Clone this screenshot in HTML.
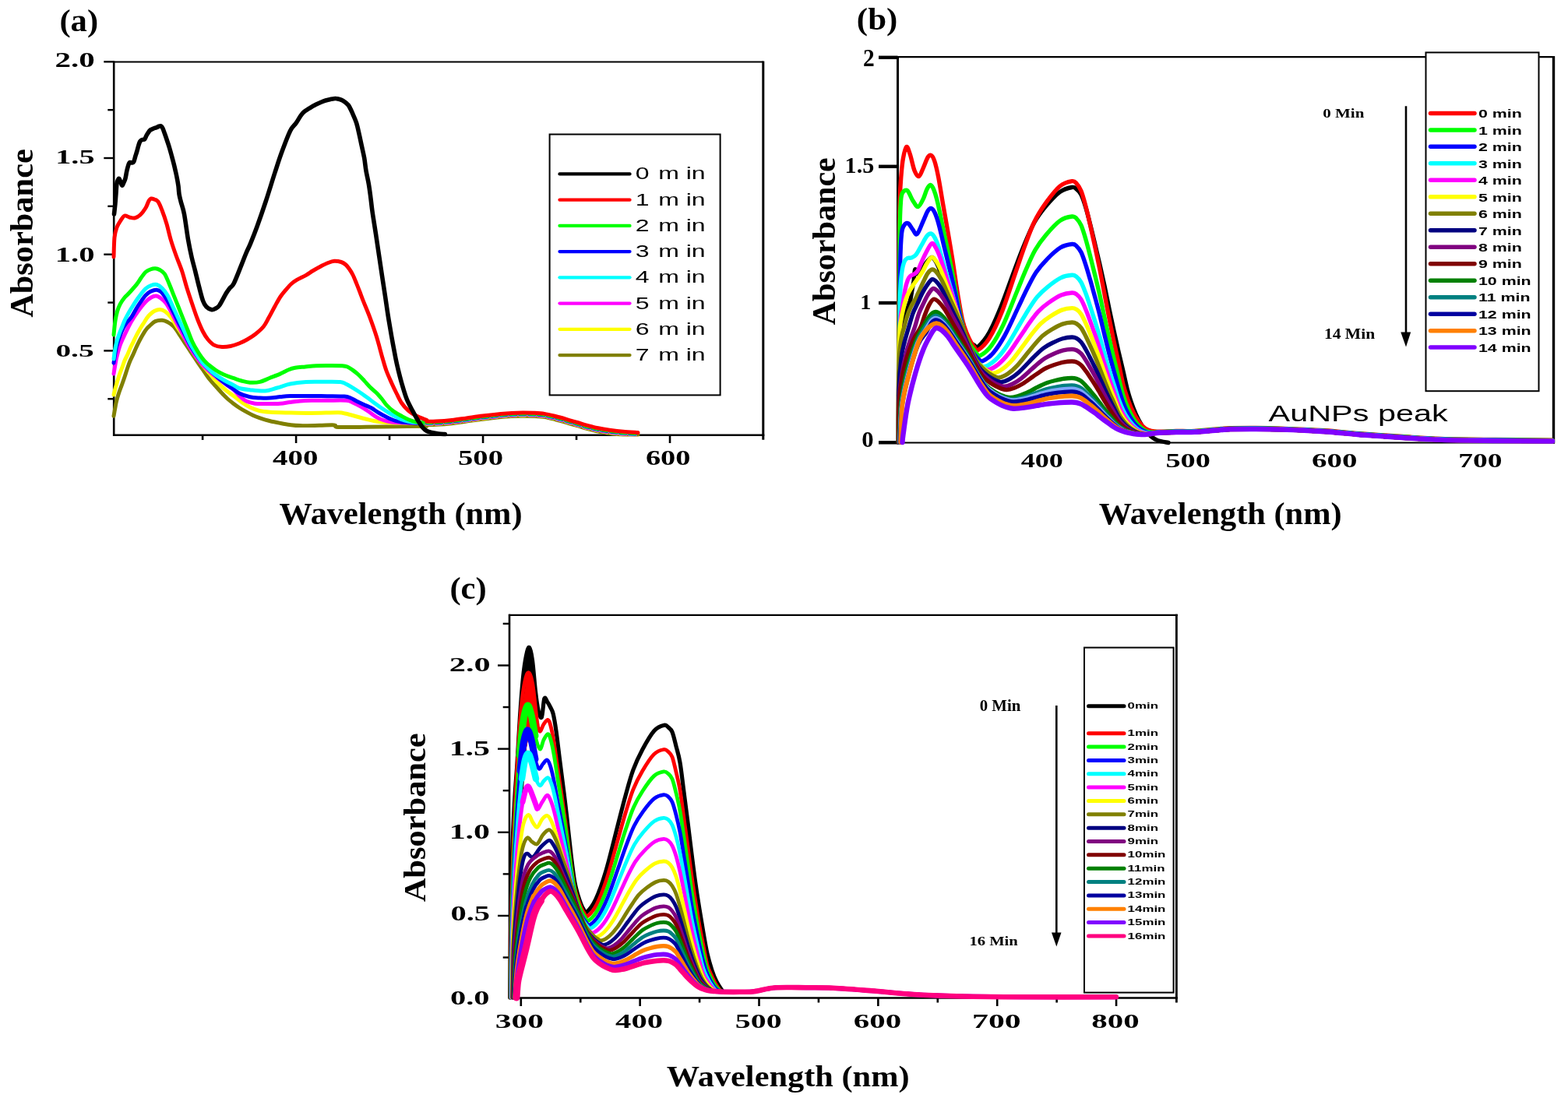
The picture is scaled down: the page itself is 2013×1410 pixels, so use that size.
<!DOCTYPE html><html><head><meta charset="utf-8"><title>UV-Vis absorbance spectra</title><style>html,body{margin:0;padding:0;background:#fff;width:2013px;height:1410px;overflow:hidden}svg{display:block}</style></head><body>
<svg width="2013" height="1410" viewBox="0 0 2013 1410">
<rect width="2013" height="1410" fill="#fff"/>
<line x1="146.2" y1="78.5" x2="146.2" y2="559.9" stroke="#000" stroke-width="2.6" stroke-linecap="butt"/>
<line x1="145.2" y1="79.5" x2="979.8" y2="79.5" stroke="#000" stroke-width="2.2" stroke-linecap="butt"/>
<line x1="979.8" y1="78.5" x2="979.8" y2="564.7" stroke="#000" stroke-width="3" stroke-linecap="butt"/>
<line x1="145.2" y1="558.7" x2="981.3" y2="558.7" stroke="#000" stroke-width="2.6" stroke-linecap="butt"/>
<line x1="133.3" y1="79.3" x2="146.2" y2="79.3" stroke="#000" stroke-width="2.4" stroke-linecap="butt"/>
<line x1="133.3" y1="203" x2="146.2" y2="203" stroke="#000" stroke-width="2.4" stroke-linecap="butt"/>
<line x1="133.3" y1="326.7" x2="146.2" y2="326.7" stroke="#000" stroke-width="2.4" stroke-linecap="butt"/>
<line x1="133.3" y1="450.4" x2="146.2" y2="450.4" stroke="#000" stroke-width="2.4" stroke-linecap="butt"/>
<line x1="138.3" y1="141.15" x2="146.2" y2="141.15" stroke="#000" stroke-width="2.4" stroke-linecap="butt"/>
<line x1="138.3" y1="264.85" x2="146.2" y2="264.85" stroke="#000" stroke-width="2.4" stroke-linecap="butt"/>
<line x1="138.3" y1="388.55" x2="146.2" y2="388.55" stroke="#000" stroke-width="2.4" stroke-linecap="butt"/>
<line x1="138.3" y1="512.25" x2="146.2" y2="512.25" stroke="#000" stroke-width="2.4" stroke-linecap="butt"/>
<line x1="380.09" y1="558.7" x2="380.09" y2="569" stroke="#000" stroke-width="2.6" stroke-linecap="butt"/>
<line x1="620.06" y1="558.7" x2="620.06" y2="569" stroke="#000" stroke-width="2.6" stroke-linecap="butt"/>
<line x1="860.03" y1="558.7" x2="860.03" y2="569" stroke="#000" stroke-width="2.6" stroke-linecap="butt"/>
<line x1="260.1" y1="558.7" x2="260.1" y2="565" stroke="#000" stroke-width="2.6" stroke-linecap="butt"/>
<line x1="500.07" y1="558.7" x2="500.07" y2="565" stroke="#000" stroke-width="2.6" stroke-linecap="butt"/>
<line x1="740.04" y1="558.7" x2="740.04" y2="565" stroke="#000" stroke-width="2.6" stroke-linecap="butt"/>
<rect x="705.6" y="172.5" width="219" height="334.9" fill="none" stroke="#000" stroke-width="2"/>
<line x1="718.5" y1="223.4" x2="808.5" y2="223.4" stroke="#000000" stroke-width="4.3" stroke-linecap="round"/>
<line x1="718.5" y1="256.64" x2="808.5" y2="256.64" stroke="#ff0000" stroke-width="4.3" stroke-linecap="round"/>
<line x1="718.5" y1="289.88" x2="808.5" y2="289.88" stroke="#00ff00" stroke-width="4.3" stroke-linecap="round"/>
<line x1="718.5" y1="323.12" x2="808.5" y2="323.12" stroke="#0000ff" stroke-width="4.3" stroke-linecap="round"/>
<line x1="718.5" y1="356.36" x2="808.5" y2="356.36" stroke="#00ffff" stroke-width="4.3" stroke-linecap="round"/>
<line x1="718.5" y1="389.6" x2="808.5" y2="389.6" stroke="#ff00ff" stroke-width="4.3" stroke-linecap="round"/>
<line x1="718.5" y1="422.84" x2="808.5" y2="422.84" stroke="#ffff00" stroke-width="4.3" stroke-linecap="round"/>
<line x1="718.5" y1="456.08" x2="808.5" y2="456.08" stroke="#808000" stroke-width="4.3" stroke-linecap="round"/>
<path d="M146 534.3C146.33 532.42 147.4 526.25 148 523C148.6 519.75 148.77 518.05 149.6 514.8C150.43 511.55 151.82 507.05 153 503.5C154.18 499.95 155.53 496.75 156.7 493.5C157.87 490.25 158.82 487.55 160 484C161.18 480.45 162.63 475.62 163.8 472.2C164.97 468.78 165.82 466.33 167 463.5C168.18 460.67 169.65 457.95 170.9 455.2C172.15 452.45 173.32 449.6 174.5 447C175.68 444.4 176.83 441.93 178 439.6C179.17 437.27 180.32 435.13 181.5 433C182.68 430.87 183.93 428.63 185.1 426.8C186.27 424.97 187.32 423.42 188.5 422C189.68 420.58 190.4 419.87 192.2 418.3C194 416.73 196.63 413.78 199.3 412.6C201.97 411.42 205.58 411.05 208.2 411.2C210.82 411.35 212.52 412.17 215 413.5C217.48 414.83 220.43 416.37 223.1 419.2C225.77 422.03 228.35 426.53 231 430.5C233.65 434.47 236.33 438.92 239 443C241.67 447.08 244.35 451.03 247 455C249.65 458.97 252.4 463.13 254.9 466.8C257.4 470.47 259.68 473.68 262 477C264.32 480.32 266.38 483.62 268.8 486.7C271.22 489.78 273.85 492.52 276.5 495.5C279.15 498.48 282.12 501.85 284.7 504.6C287.28 507.35 289.45 509.68 292 512C294.55 514.32 297.5 516.58 300 518.5C302.5 520.42 304.6 521.93 307 523.5C309.4 525.07 311.57 526.32 314.4 527.9C317.23 529.48 320.77 531.5 324 533C327.23 534.5 330.13 535.65 333.8 536.9C337.47 538.15 341.7 539.42 346 540.5C350.3 541.58 355.27 542.57 359.6 543.4C363.93 544.23 367.7 544.97 372 545.5C376.3 546.03 379.07 546.47 385.4 546.6C391.73 546.73 402.72 546.42 410 546.3C417.28 546.18 425.07 545.53 429.1 545.9C433.13 546.27 427.38 548.12 434.2 548.5C441.02 548.88 457.37 548.33 470 548.2C482.63 548.07 497.02 547.87 510 547.7C522.98 547.53 541.58 547.28 547.9 547.2" fill="none" stroke="#808000" stroke-width="5" stroke-linejoin="round" stroke-linecap="round"/>
<path d="M146 507C146.33 505.67 147.4 501.25 148 499C148.6 496.75 148.77 496.33 149.6 493.5C150.43 490.67 151.82 485.55 153 482C154.18 478.45 155.53 475.37 156.7 472.2C157.87 469.03 158.82 465.83 160 463C161.18 460.17 162.63 457.78 163.8 455.2C164.97 452.62 165.82 450.1 167 447.5C168.18 444.9 169.65 442.18 170.9 439.6C172.15 437.02 173.32 434.37 174.5 432C175.68 429.63 176.83 427.48 178 425.4C179.17 423.32 180.32 421.4 181.5 419.5C182.68 417.6 183.93 415.83 185.1 414C186.27 412.17 187.32 410.15 188.5 408.5C189.68 406.85 190.62 405.6 192.2 404.1C193.78 402.6 195.82 400.6 198 399.5C200.18 398.4 202.97 397.42 205.3 397.5C207.63 397.58 209.68 398.38 212 400C214.32 401.62 216.7 404.03 219.2 407.2C221.7 410.37 224.37 415.02 227 419C229.63 422.98 232.33 426.93 235 431.1C237.67 435.27 240.35 439.7 243 444C245.65 448.3 248.32 453.07 250.9 456.9C253.48 460.73 255.85 463.68 258.5 467C261.15 470.32 264.13 473.63 266.8 476.8C269.47 479.97 271.85 483.03 274.5 486C277.15 488.97 279.95 491.93 282.7 494.6C285.45 497.27 288.12 499.68 291 502C293.88 504.32 296.67 506 300 508.5C303.33 511 307.53 514.58 311 517C314.47 519.42 317.13 521.25 320.8 523C324.47 524.75 328.68 526.47 333 527.5C337.32 528.53 340.53 528.78 346.7 529.2C352.87 529.62 361.12 529.78 370 530C378.88 530.22 389.3 530.53 400 530.5C410.7 530.47 427.03 529.72 434.2 529.8C441.37 529.88 440.2 530.47 443 531C445.8 531.53 448.17 532.25 451 533C453.83 533.75 456.77 534.63 460 535.5C463.23 536.37 467.07 537.37 470.4 538.2C473.73 539.03 476.77 539.87 480 540.5C483.23 541.13 484.8 541.58 489.8 542C494.8 542.42 500.32 542.78 510 543C519.68 543.22 541.58 543.25 547.9 543.3" fill="none" stroke="#ffff00" stroke-width="5" stroke-linejoin="round" stroke-linecap="round"/>
<path d="M146 480C146.33 478 147.33 471.67 148 468C148.67 464.33 148.97 462.15 150 458C151.03 453.85 152.53 447.77 154.2 443.1C155.87 438.43 157.63 434.97 160 430C162.37 425.03 165.57 418.3 168.4 413.3C171.23 408.3 173.93 404.25 177 400C180.07 395.75 183.97 390.8 186.8 387.8C189.63 384.8 191.72 383.3 194 382C196.28 380.7 198.42 379.83 200.5 380C202.58 380.17 204.38 381.43 206.5 383C208.62 384.57 210.95 386.4 213.2 389.4C215.45 392.4 217.68 396.7 220 401C222.32 405.3 224.6 410.37 227.1 415.2C229.6 420.03 232.35 425.03 235 430C237.65 434.97 240.5 440.75 243 445C245.5 449.25 247.68 452.2 250 455.5C252.32 458.8 254.65 462.05 256.9 464.8C259.15 467.55 261.18 469.68 263.5 472C265.82 474.32 268.05 476.37 270.8 478.7C273.55 481.03 276.8 483.53 280 486C283.2 488.47 286.67 491.07 290 493.5C293.33 495.93 297.02 498.02 300 500.6C302.98 503.18 305.23 506.6 307.9 509C310.57 511.4 312.77 513.47 316 515C319.23 516.53 322.8 517.62 327.3 518.2C331.8 518.78 337.62 518.5 343 518.5C348.38 518.5 354.77 518.53 359.6 518.2C364.43 517.87 367.7 517.03 372 516.5C376.3 515.97 380.73 515.37 385.4 515C390.07 514.63 394.23 514.42 400 514.3C405.77 514.18 412.57 514.3 420 514.3C427.43 514.3 438.93 513.77 444.6 514.3C450.27 514.83 450.77 516.1 454 517.5C457.23 518.9 460.67 520.78 464 522.7C467.33 524.62 470.78 526.85 474 529C477.22 531.15 480.3 533.85 483.3 535.6C486.3 537.35 488.77 538.43 492 539.5C495.23 540.57 498.03 541.42 502.7 542C507.37 542.58 512.47 542.78 520 543C527.53 543.22 543.25 543.25 547.9 543.3" fill="none" stroke="#ff00ff" stroke-width="5" stroke-linejoin="round" stroke-linecap="round"/>
<path d="M146 466C146.67 462.33 148.33 450.67 150 444C151.67 437.33 154 430.83 156 426C158 421.17 159.93 418.05 162 415C164.07 411.95 165.9 411.37 168.4 407.7C170.9 404.03 173.93 397.73 177 393C180.07 388.27 183.97 382.47 186.8 379.3C189.63 376.13 191.63 375.18 194 374C196.37 372.82 198.83 372.03 201 372.2C203.17 372.37 204.83 372.95 207 375C209.17 377.05 211.67 380.75 214 384.5C216.33 388.25 218.67 392.92 221 397.5C223.33 402.08 225.5 407.08 228 412C230.5 416.92 233.42 422 236 427C238.58 432 241.17 437.75 243.5 442C245.83 446.25 247.83 449.25 250 452.5C252.17 455.75 254.33 458.75 256.5 461.5C258.67 464.25 260.75 466.58 263 469C265.25 471.42 267.17 473.33 270 476C272.83 478.67 276.67 482.17 280 485C283.33 487.83 286.67 490.5 290 493C293.33 495.5 297.17 498 300 500C302.83 502 303.53 503.37 307 505C310.47 506.63 316.3 508.8 320.8 509.8C325.3 510.8 329.68 510.78 334 511C338.32 511.22 342.37 511.35 346.7 511.1C351.03 510.85 355.7 509.93 360 509.5C364.3 509.07 365.83 508.67 372.5 508.5C379.17 508.33 392.08 508.47 400 508.5C407.92 508.53 413 508.6 420 508.7C427 508.8 437 508.72 442 509.1C447 509.48 447.42 510.03 450 511C452.58 511.97 454.67 513.48 457.5 514.9C460.33 516.32 463.77 517.98 467 519.5C470.23 521.02 473.73 522.25 476.9 524C480.07 525.75 482.78 528.07 486 530C489.22 531.93 493.03 534.02 496.2 535.6C499.37 537.18 501.77 538.43 505 539.5C508.23 540.57 511.43 541.42 515.6 542C519.77 542.58 524.62 542.78 530 543C535.38 543.22 544.92 543.25 547.9 543.3" fill="none" stroke="#0000ff" stroke-width="5" stroke-linejoin="round" stroke-linecap="round"/>
<path d="M146 461C146.25 459.17 146.9 453.57 147.5 450C148.1 446.43 148.68 443.1 149.6 439.6C150.52 436.1 151.82 432.32 153 429C154.18 425.68 155.53 422.62 156.7 419.7C157.87 416.78 158.82 414.1 160 411.5C161.18 408.9 162.4 406.63 163.8 404.1C165.2 401.57 166.2 399.82 168.4 396.3C170.6 392.78 173.93 387.25 177 383C180.07 378.75 183.97 373.55 186.8 370.8C189.63 368.05 191.58 367.38 194 366.5C196.42 365.62 198.97 364.92 201.3 365.5C203.63 366.08 205.68 367.68 208 370C210.32 372.32 212.87 375.4 215.2 379.4C217.53 383.4 219.68 389.03 222 394C224.32 398.97 226.77 404.2 229.1 409.2C231.43 414.2 233.68 419.03 236 424C238.32 428.97 240.83 434.75 243 439C245.17 443.25 247.02 446.18 249 449.5C250.98 452.82 252.98 456.07 254.9 458.9C256.82 461.73 258.52 464.18 260.5 466.5C262.48 468.82 264.8 470.88 266.8 472.8C268.8 474.72 270.52 476.35 272.5 478C274.48 479.65 275.95 480.87 278.7 482.7C281.45 484.53 285.45 487.02 289 489C292.55 490.98 297 493.02 300 494.6C303 496.18 303.53 497.48 307 498.5C310.47 499.52 315.27 500.12 320.8 500.7C326.33 501.28 334.33 502.45 340.2 502C346.07 501.55 350.62 499.5 356 498C361.38 496.5 366.35 494.27 372.5 493C378.65 491.73 385.82 490.87 392.9 490.4C399.98 489.93 407.68 490.2 415 490.2C422.32 490.2 431.97 489.93 436.8 490.4C441.63 490.87 441.63 491.93 444 493C446.37 494.07 448.33 495.22 451 496.8C453.67 498.38 456.77 500.35 460 502.5C463.23 504.65 467.07 507.28 470.4 509.7C473.73 512.12 476.77 514.62 480 517C483.23 519.38 486.47 521.75 489.8 524C493.13 526.25 496.77 528.57 500 530.5C503.23 532.43 506.2 534.1 509.2 535.6C512.2 537.1 514.78 538.43 518 539.5C521.22 540.57 523.52 541.37 528.5 542C533.48 542.63 544.67 543.08 547.9 543.3" fill="none" stroke="#00ffff" stroke-width="5" stroke-linejoin="round" stroke-linecap="round"/>
<path d="M146 430C146.33 427 147.25 417 148 412C148.75 407 149.47 403.57 150.5 400C151.53 396.43 152.62 393.6 154.2 390.6C155.78 387.6 158.12 384.35 160 382C161.88 379.65 162.92 379.32 165.5 376.5C168.08 373.68 172.92 368.35 175.5 365.1C178.08 361.85 179.12 359.6 181 357C182.88 354.4 184.8 351.33 186.8 349.5C188.8 347.67 190.92 346.8 193 346C195.08 345.2 197.3 344.62 199.3 344.7C201.3 344.78 203.02 345.35 205 346.5C206.98 347.65 209.2 348.68 211.2 351.6C213.2 354.52 215.02 359.37 217 364C218.98 368.63 221.1 374.4 223.1 379.4C225.1 384.4 227.02 389.03 229 394C230.98 398.97 233 404.2 235 409.2C237 414.2 239 419.03 241 424C243 428.97 245 434.67 247 439C249 443.33 251.02 446.68 253 450C254.98 453.32 256.98 456.32 258.9 458.9C260.82 461.48 262.52 463.52 264.5 465.5C266.48 467.48 268.8 469.22 270.8 470.8C272.8 472.38 274.52 473.68 276.5 475C278.48 476.32 280.28 477.45 282.7 478.7C285.12 479.95 288.12 481.33 291 482.5C293.88 483.67 296.83 484.62 300 485.7C303.17 486.78 306.53 488.08 310 489C313.47 489.92 316.83 490.97 320.8 491.2C324.77 491.43 329.6 491.35 333.8 490.4C338 489.45 341.7 487.22 346 485.5C350.3 483.78 355.6 481.85 359.6 480.1C363.6 478.35 366.77 476.3 370 475C373.23 473.7 375.33 472.97 379 472.3C382.67 471.63 387.53 471.43 392 471C396.47 470.57 400.8 469.95 405.8 469.7C410.8 469.45 416.4 469.5 422 469.5C427.6 469.5 435.4 469.45 439.4 469.7C443.4 469.95 443.85 470.13 446 471C448.15 471.87 449.97 473.23 452.3 474.9C454.63 476.57 457.42 478.63 460 481C462.58 483.37 465.3 486.43 467.8 489.1C470.3 491.77 472.42 494.42 475 497C477.58 499.58 480.8 502.1 483.3 504.6C485.8 507.1 487.85 509.42 490 512C492.15 514.58 493.7 517.43 496.2 520.1C498.7 522.77 501.77 525.63 505 528C508.23 530.37 512.27 532.47 515.6 534.3C518.93 536.13 521.77 537.72 525 539C528.23 540.28 531.18 541.28 535 542C538.82 542.72 545.75 543.08 547.9 543.3" fill="none" stroke="#00ff00" stroke-width="5" stroke-linejoin="round" stroke-linecap="round"/>
<path d="M146 330C146.17 325.83 146.33 311.33 147 305C147.67 298.67 148.67 295.67 150 292C151.33 288.33 153.33 285.5 155 283C156.67 280.5 158.17 277.67 160 277C161.83 276.33 163.83 278.5 166 279C168.17 279.5 170.67 280.5 173 280C175.33 279.5 177.67 278.17 180 276C182.33 273.83 185.17 270 187 267C188.83 264 189.83 260 191 258C192.17 256 192.83 255.33 194 255C195.17 254.67 196.5 255.33 198 256C199.5 256.67 201.33 256.67 203 259C204.67 261.33 206.2 265.33 208 270C209.8 274.67 211.9 280.6 213.8 287C215.7 293.4 217.37 301.57 219.4 308.4C221.43 315.23 223.63 321.4 226 328C228.37 334.6 231.27 341 233.6 348C235.93 355 237.63 362.42 240 370C242.37 377.58 245.47 386.67 247.8 393.5C250.13 400.33 251.87 405.58 254 411C256.13 416.42 258.43 421.83 260.6 426C262.77 430.17 264.63 433.15 267 436C269.37 438.85 271.8 441.52 274.8 443.1C277.8 444.68 281.47 445.27 285 445.5C288.53 445.73 292.33 445.25 296 444.5C299.67 443.75 303.45 442.42 307 441C310.55 439.58 313.8 438 317.3 436C320.8 434 324.45 431.83 328 429C331.55 426.17 335.77 422.5 338.6 419C341.43 415.5 342.63 412.25 345 408C347.37 403.75 350.3 398 352.8 393.5C355.3 389 357.63 384.55 360 381C362.37 377.45 364.67 374.95 367 372.2C369.33 369.45 371.65 366.63 374 364.5C376.35 362.37 377.95 361.27 381.1 359.4C384.25 357.53 389.42 355.28 392.9 353.3C396.38 351.32 398.77 349.43 402 347.5C405.23 345.57 409.3 343.28 412.3 341.7C415.3 340.12 417.2 339.08 420 338C422.8 336.92 426.08 335.45 429.1 335.2C432.12 334.95 435.62 335.7 438.1 336.5C440.58 337.3 442.27 338.5 444 340C445.73 341.5 447 343.33 448.5 345.5C450 347.67 451.5 349.98 453 353C454.5 356.02 456 359.93 457.5 363.6C459 367.27 460.5 371.12 462 375C463.5 378.88 464.45 381.7 466.5 386.9C468.55 392.1 471.5 398.67 474.3 406.2C477.1 413.73 480.5 423.13 483.3 432.1C486.1 441.07 488.98 452.68 491.1 460C493.22 467.32 494.07 470.72 496 476C497.93 481.28 500.53 486.87 502.7 491.7C504.87 496.53 506.85 500.7 509 505C511.15 509.3 513.1 513.83 515.6 517.5C518.1 521.17 520.77 524.2 524 527C527.23 529.8 531.02 532.22 535 534.3C538.98 536.38 545.75 538.63 547.9 539.5" fill="none" stroke="#ff0000" stroke-width="5" stroke-linejoin="round" stroke-linecap="round"/>
<path d="M547.9 545.5C549.92 545.47 554.65 545.6 560 545.3C565.35 545 573.5 544.4 580 543.7C586.5 543 592.33 542.02 599 541.1C605.67 540.18 612.67 539.12 620 538.2C627.33 537.28 636.83 536.2 643 535.6C649.17 535 652.33 534.83 657 534.6C661.67 534.37 666.33 534.22 671 534.2C675.67 534.18 680.33 534.27 685 534.5C689.67 534.73 694.33 534.9 699 535.6C703.67 536.3 708.33 537.55 713 538.7C717.67 539.85 722.33 541.17 727 542.5C731.67 543.83 736.33 545.3 741 546.7C745.67 548.1 750.5 549.68 755 550.9C759.5 552.12 763.42 553.08 768 554C772.58 554.92 777.17 555.73 782.5 556.4C787.83 557.07 793.92 557.73 800 558C806.08 558.27 815.83 558 819 558" fill="none" stroke="#808000" stroke-width="5" stroke-linejoin="round" stroke-linecap="round"/>
<path d="M547.9 544.5C549.92 544.47 554.65 544.6 560 544.3C565.35 544 573.5 543.4 580 542.7C586.5 542 592.33 541.02 599 540.1C605.67 539.18 612.67 538.12 620 537.2C627.33 536.28 636.83 535.2 643 534.6C649.17 534 652.33 533.83 657 533.6C661.67 533.37 666.33 533.22 671 533.2C675.67 533.18 680.33 533.27 685 533.5C689.67 533.73 694.33 533.9 699 534.6C703.67 535.3 708.33 536.55 713 537.7C717.67 538.85 722.33 540.17 727 541.5C731.67 542.83 736.33 544.3 741 545.7C745.67 547.1 750.5 548.68 755 549.9C759.5 551.12 763.42 552.08 768 553C772.58 553.92 777.17 554.65 782.5 555.4C787.83 556.15 793.92 557.07 800 557.5C806.08 557.93 815.83 557.92 819 558" fill="none" stroke="#ffff00" stroke-width="5" stroke-linejoin="round" stroke-linecap="round" stroke-dasharray="7 5"/>
<path d="M547.9 544.1C549.92 544.07 554.65 544.2 560 543.9C565.35 543.6 573.5 543 580 542.3C586.5 541.6 592.33 540.62 599 539.7C605.67 538.78 612.67 537.72 620 536.8C627.33 535.88 636.83 534.8 643 534.2C649.17 533.6 652.33 533.43 657 533.2C661.67 532.97 666.33 532.82 671 532.8C675.67 532.78 680.33 532.87 685 533.1C689.67 533.33 694.33 533.5 699 534.2C703.67 534.9 708.33 536.15 713 537.3C717.67 538.45 722.33 539.77 727 541.1C731.67 542.43 736.33 543.9 741 545.3C745.67 546.7 750.5 548.28 755 549.5C759.5 550.72 763.42 551.68 768 552.6C772.58 553.52 777.17 554.25 782.5 555C787.83 555.75 793.92 556.6 800 557.1C806.08 557.6 815.83 557.85 819 558" fill="none" stroke="#ff00ff" stroke-width="5" stroke-linejoin="round" stroke-linecap="round" stroke-dasharray="7 5"/>
<path d="M547.9 543.3C549.92 543.27 554.65 543.4 560 543.1C565.35 542.8 573.5 542.2 580 541.5C586.5 540.8 592.33 539.82 599 538.9C605.67 537.98 612.67 536.92 620 536C627.33 535.08 636.83 534 643 533.4C649.17 532.8 652.33 532.63 657 532.4C661.67 532.17 666.33 532.02 671 532C675.67 531.98 680.33 532.07 685 532.3C689.67 532.53 694.33 532.7 699 533.4C703.67 534.1 708.33 535.35 713 536.5C717.67 537.65 722.33 538.97 727 540.3C731.67 541.63 736.33 543.1 741 544.5C745.67 545.9 750.5 547.48 755 548.7C759.5 549.92 763.42 550.88 768 551.8C772.58 552.72 777.17 553.45 782.5 554.2C787.83 554.95 793.92 555.75 800 556.3C806.08 556.85 815.83 557.3 819 557.5" fill="none" stroke="#00ffff" stroke-width="5" stroke-linejoin="round" stroke-linecap="round" stroke-dasharray="7 5"/>
<path d="M547.9 543C549.92 542.97 554.65 543.1 560 542.8C565.35 542.5 573.5 541.9 580 541.2C586.5 540.5 592.33 539.52 599 538.6C605.67 537.68 612.67 536.62 620 535.7C627.33 534.78 636.83 533.7 643 533.1C649.17 532.5 652.33 532.33 657 532.1C661.67 531.87 666.33 531.72 671 531.7C675.67 531.68 680.33 531.77 685 532C689.67 532.23 694.33 532.4 699 533.1C703.67 533.8 708.33 535.05 713 536.2C717.67 537.35 722.33 538.67 727 540C731.67 541.33 736.33 542.8 741 544.2C745.67 545.6 750.5 547.18 755 548.4C759.5 549.62 763.42 550.58 768 551.5C772.58 552.42 777.17 553.15 782.5 553.9C787.83 554.65 793.92 555.45 800 556C806.08 556.55 815.83 557 819 557.2" fill="none" stroke="#0000ff" stroke-width="5" stroke-linejoin="round" stroke-linecap="round" stroke-dasharray="7 5"/>
<path d="M547.9 542.5C549.92 542.47 554.65 542.6 560 542.3C565.35 542 573.5 541.4 580 540.7C586.5 540 592.33 539.02 599 538.1C605.67 537.18 612.67 536.12 620 535.2C627.33 534.28 636.83 533.2 643 532.6C649.17 532 652.33 531.83 657 531.6C661.67 531.37 666.33 531.22 671 531.2C675.67 531.18 680.33 531.27 685 531.5C689.67 531.73 694.33 531.9 699 532.6C703.67 533.3 708.33 534.55 713 535.7C717.67 536.85 722.33 538.17 727 539.5C731.67 540.83 736.33 542.3 741 543.7C745.67 545.1 750.5 546.68 755 547.9C759.5 549.12 763.42 550.08 768 551C772.58 551.92 777.17 552.65 782.5 553.4C787.83 554.15 793.92 554.95 800 555.5C806.08 556.05 815.83 556.5 819 556.7" fill="none" stroke="#00ff00" stroke-width="5" stroke-linejoin="round" stroke-linecap="round" stroke-dasharray="7 5"/>
<path d="M547.9 541.3C549.92 541.27 554.65 541.4 560 541.1C565.35 540.8 573.5 540.2 580 539.5C586.5 538.8 592.33 537.82 599 536.9C605.67 535.98 612.67 534.92 620 534C627.33 533.08 636.83 532 643 531.4C649.17 530.8 652.33 530.63 657 530.4C661.67 530.17 666.33 530.02 671 530C675.67 529.98 680.33 530.07 685 530.3C689.67 530.53 694.33 530.7 699 531.4C703.67 532.1 708.33 533.35 713 534.5C717.67 535.65 722.33 536.97 727 538.3C731.67 539.63 736.33 541.1 741 542.5C745.67 543.9 750.5 545.48 755 546.7C759.5 547.92 763.42 548.88 768 549.8C772.58 550.72 777.17 551.45 782.5 552.2C787.83 552.95 793.92 553.75 800 554.3C806.08 554.85 815.83 555.3 819 555.5" fill="none" stroke="#ff0000" stroke-width="5" stroke-linejoin="round" stroke-linecap="round"/>
<path d="M146.5 275C146.73 272.83 147.5 266.3 147.9 262C148.3 257.7 148.57 253.53 148.9 249.2C149.23 244.87 149.47 239.03 149.9 236C150.33 232.97 151 232.1 151.5 231C152 229.9 152.32 228.9 152.9 229.4C153.48 229.9 154.33 232.52 155 234C155.67 235.48 156.23 238.3 156.9 238.3C157.57 238.3 158.33 235.48 159 234C159.67 232.52 160.32 231.57 160.9 229.4C161.48 227.23 162.02 223.32 162.5 221C162.98 218.68 163.3 217.33 163.8 215.5C164.3 213.67 165 211.17 165.5 210C166 208.83 166.13 208.67 166.8 208.5C167.47 208.33 168.67 209.17 169.5 209C170.33 208.83 171.05 209 171.8 207.5C172.55 206 173.35 202.15 174 200C174.65 197.85 175.07 196.77 175.7 194.6C176.33 192.43 177.13 189.15 177.8 187C178.47 184.85 178.92 182.95 179.7 181.7C180.48 180.45 181.5 180 182.5 179.5C183.5 179 184.78 179.62 185.7 178.7C186.62 177.78 187.18 175.48 188 174C188.82 172.52 189.77 170.97 190.6 169.8C191.43 168.63 192.17 167.67 193 167C193.83 166.33 194.77 166.22 195.6 165.8C196.43 165.38 197.17 164.83 198 164.5C198.83 164.17 199.68 164.13 200.6 163.8C201.52 163.47 202.52 162.83 203.5 162.5C204.48 162.17 205.58 161.38 206.5 161.8C207.42 162.22 208.17 163.33 209 165C209.83 166.67 210.58 169.22 211.5 171.8C212.42 174.38 213.5 177.52 214.5 180.5C215.5 183.48 216.5 186.37 217.5 189.7C218.5 193.03 219.52 196.87 220.5 200.5C221.48 204.13 222.57 208.17 223.4 211.5C224.23 214.83 224.83 217.52 225.5 220.5C226.17 223.48 226.82 226.32 227.4 229.4C227.98 232.48 228.57 235.7 229 239C229.43 242.3 229.47 245.87 230 249.2C230.53 252.53 231.12 254.7 232.2 259C233.28 263.3 234.97 267 236.5 275C238.03 283 239.82 297.83 241.4 307C242.98 316.17 244.47 323.17 246 330C247.53 336.83 249.02 341.67 250.6 348C252.18 354.33 253.83 361.6 255.5 368C257.17 374.4 259.02 382.07 260.6 386.4C262.18 390.73 263.12 392.12 265 394C266.88 395.88 269.9 397.37 271.9 397.7C273.9 398.03 275.35 396.95 277 396C278.65 395.05 279.57 395.25 281.8 392C284.03 388.75 288.2 380.17 290.4 376.5C292.6 372.83 293.35 372.13 295 370C296.65 367.87 297.77 368.77 300.3 363.7C302.83 358.63 307.58 346.05 310.2 339.6C312.82 333.15 314.1 329.5 316 325C317.9 320.5 319.27 318.27 321.6 312.6C323.93 306.93 326.7 300.1 330 291C333.3 281.9 337.6 269.5 341.4 258C345.2 246.5 349.48 232.25 352.8 222C356.12 211.75 358 205.5 361.3 196.5C364.6 187.5 369.48 174.38 372.6 168C375.72 161.62 377.35 161.97 380 158.2C382.65 154.43 385.43 148.72 388.5 145.4C391.57 142.08 395.48 140.2 398.4 138.3C401.32 136.4 403.15 135.42 406 134C408.85 132.58 412.83 130.8 415.5 129.8C418.17 128.8 419.55 128.55 422 128C424.45 127.45 428.03 126.62 430.2 126.5C432.37 126.38 433.3 126.83 435 127.3C436.7 127.77 438.37 128.02 440.4 129.3C442.43 130.58 445.12 132.17 447.2 135C449.28 137.83 451.18 142.52 452.9 146.3C454.62 150.08 456.17 153.53 457.5 157.7C458.83 161.87 459.77 166.38 460.9 171.3C462.03 176.22 463.17 181.9 464.3 187.2C465.43 192.5 466.77 197.8 467.7 203.1C468.63 208.4 468.97 213.52 469.9 219C470.83 224.48 472.35 230.52 473.3 236C474.25 241.48 474.85 246.23 475.6 251.9C476.35 257.57 477.13 264.98 477.8 270C478.47 275.02 478.73 276.37 479.6 282C480.47 287.63 481.8 295.9 483 303.8C484.2 311.7 485.53 320.88 486.8 329.4C488.07 337.92 489.32 346.4 490.6 354.9C491.88 363.4 493.22 371.88 494.5 380.4C495.78 388.92 496.93 397.38 498.3 406C499.67 414.62 501.1 423.1 502.7 432.1C504.3 441.1 506.52 453.02 507.9 460C509.28 466.98 509.72 468.72 511 474C512.28 479.28 513.75 485.32 515.6 491.7C517.45 498.08 519.73 506.28 522.1 512.3C524.47 518.32 527.48 523.35 529.8 527.8C532.12 532.25 533.85 535.47 536 539C538.15 542.53 540.7 546.58 542.7 549C544.7 551.42 546.05 552.42 548 553.5C549.95 554.58 551.9 554.92 554.4 555.5C556.9 556.08 560.2 556.67 563 557C565.8 557.33 569.83 557.42 571.2 557.5" fill="none" stroke="#000000" stroke-width="5.6" stroke-linejoin="round" stroke-linecap="round"/>
<line x1="1152.5" y1="72.2" x2="1152.5" y2="569.5" stroke="#000" stroke-width="3" stroke-linecap="butt"/>
<line x1="1151" y1="73.2" x2="1996" y2="73.2" stroke="#000" stroke-width="2.2" stroke-linecap="butt"/>
<line x1="1994.5" y1="72.2" x2="1994.5" y2="569.5" stroke="#000" stroke-width="3.4" stroke-linecap="butt"/>
<line x1="1151" y1="568.5" x2="1996" y2="568.5" stroke="#000" stroke-width="2.2" stroke-linecap="butt"/>
<line x1="1128" y1="73.8" x2="1152.5" y2="73.8" stroke="#000" stroke-width="4.4" stroke-linecap="butt"/>
<line x1="1128" y1="213.8" x2="1152.5" y2="213.8" stroke="#000" stroke-width="4.4" stroke-linecap="butt"/>
<line x1="1128" y1="389" x2="1152.5" y2="389" stroke="#000" stroke-width="4.4" stroke-linecap="butt"/>
<line x1="1128" y1="568.3" x2="1152.5" y2="568.3" stroke="#000" stroke-width="4.4" stroke-linecap="butt"/>
<path d="M1153.2 568C1153.33 553.33 1153.37 503 1154 480C1154.63 457 1155.67 442.5 1157 430C1158.33 417.5 1160.5 411.17 1162 405C1163.5 398.83 1164.88 396.32 1166 393C1167.12 389.68 1167.87 388.6 1168.7 385.1C1169.53 381.6 1170.28 375.97 1171 372C1171.72 368.03 1172.38 365.63 1173 361.3C1173.62 356.97 1173.87 347.55 1174.7 346C1175.53 344.45 1176.62 351.75 1178 352C1179.38 352.25 1181.17 349.92 1183 347.5C1184.83 345.08 1186.83 340.32 1189 337.5C1191.17 334.68 1194.14 331.18 1196 330.6C1197.86 330.02 1198.68 331.94 1200.17 334.04C1201.66 336.14 1203.15 339 1204.94 343.21C1206.73 347.41 1208.81 353.71 1210.9 359.25C1212.99 364.79 1215.47 371.09 1217.46 376.44C1219.44 381.79 1220.73 385.23 1222.82 391.34C1224.91 397.45 1227.79 407 1229.97 413.11C1232.16 419.22 1233.95 424.19 1235.93 428.01C1237.92 431.83 1240.1 433.93 1241.89 436.03C1243.68 438.13 1245.17 439.37 1246.66 440.62C1248.15 441.86 1249.34 442.72 1250.83 443.48C1252.32 444.25 1252.39 447.98 1255.6 445.2C1258.81 442.42 1265.05 435.65 1270.07 426.78C1275.1 417.91 1280.12 405.97 1285.75 391.98C1291.38 377.99 1298.81 356.16 1303.84 342.85C1308.87 329.54 1311.88 321.7 1315.9 312.14C1319.92 302.59 1323.54 293.38 1327.96 285.53C1332.38 277.69 1337.01 271.55 1342.43 265.06C1347.86 258.58 1354.89 250.73 1360.52 246.64C1366.15 242.55 1372.62 241.14 1376.2 240.5C1379.78 239.86 1380.03 241.2 1382 242.78C1383.97 244.37 1386 245.98 1388 249.99C1390 254.01 1392 260.27 1394 266.87C1396 273.46 1398 281.64 1400 289.57C1402 297.51 1404 306.06 1406 314.5C1408 322.94 1410 331.43 1412 340.21C1414 349 1416 357.83 1418 367.21C1420 376.59 1422 386.86 1424 396.48C1426 406.1 1428 415.75 1430 424.93C1432 434.12 1434 442.93 1436 451.58C1438 460.23 1440 468.31 1442 476.84C1444 485.36 1445.83 494.89 1448 502.75C1450.17 510.61 1452.67 517.87 1455 524C1457.33 530.14 1459.5 534.86 1462 539.55C1464.5 544.24 1467.33 548.63 1470 552.14C1472.67 555.66 1475.33 558.41 1478 560.64C1480.67 562.86 1482.33 564.16 1486 565.47C1489.67 566.78 1497.67 568 1500 568.5" fill="none" stroke="#000000" stroke-width="5.4" stroke-linejoin="round" stroke-linecap="round"/>
<path d="M1153.6 568C1153.63 543.33 1153.68 461.33 1153.8 420C1153.92 378.67 1154.05 347.5 1154.3 320C1154.55 292.5 1154.85 270.83 1155.3 255C1155.75 239.17 1156.3 233.67 1157 225C1157.7 216.33 1158.37 209.08 1159.5 203C1160.63 196.92 1162.32 189.27 1163.8 188.5C1165.28 187.73 1166.7 193.32 1168.4 198.4C1170.1 203.48 1172.12 214.32 1174 219C1175.88 223.68 1177.8 227.1 1179.7 226.5C1181.6 225.9 1183.5 219.48 1185.4 215.4C1187.3 211.32 1189.4 204.65 1191.1 202C1192.8 199.35 1194.15 198.67 1195.6 199.5C1197.05 200.33 1198.3 202.42 1199.8 207C1201.3 211.58 1202.8 217.83 1204.6 227C1206.4 236.17 1208.5 249.92 1210.6 262C1212.7 274.08 1215.2 287.83 1217.2 299.5C1219.2 311.17 1220.5 318.67 1222.6 332C1224.7 345.33 1227.6 366.17 1229.8 379.5C1232 392.83 1233.8 403.67 1235.8 412C1237.8 420.33 1240 424.92 1241.8 429.5C1243.6 434.08 1245.1 436.79 1246.6 439.5C1248.1 442.21 1249.3 444.08 1250.8 445.75C1252.3 447.42 1252.39 451.4 1255.6 449.5C1258.81 447.6 1265.05 442.27 1270.07 434.32C1275.1 426.37 1280.12 415.9 1285.75 401.8C1291.38 387.71 1298.81 364.23 1303.84 349.77C1308.87 335.32 1311.88 325.92 1315.9 315.08C1319.92 304.24 1323.54 293.77 1327.96 284.73C1332.38 275.7 1337.01 268.47 1342.43 260.88C1347.86 253.3 1354.89 243.9 1360.52 239.2C1366.15 234.51 1372.62 233.31 1376.2 232.7C1379.78 232.09 1380.03 233.49 1382 235.57C1383.97 237.64 1386 240.18 1388 245.14C1390 250.11 1392 257.75 1394 265.36C1396 272.97 1398 282 1400 290.78C1402 299.56 1404 308.75 1406 318.04C1408 327.33 1410 336.55 1412 346.53C1414 356.5 1416 367.45 1418 377.87C1420 388.28 1422 398.92 1424 409.02C1426 419.12 1428 428.98 1430 438.46C1432 447.94 1434 456.64 1436 465.91C1438 475.19 1440 486.24 1442 494.1C1444 501.96 1445.83 507.14 1448 513.08C1450.17 519.01 1452.67 525.03 1455 529.72C1457.33 534.42 1459.5 537.91 1462 541.27C1464.5 544.64 1467.33 547.89 1470 549.92C1472.67 551.96 1474.9 552.77 1478 553.5C1481.1 554.23 1483.27 554.3 1488.6 554.3C1493.93 554.3 1502.53 553.65 1510 553.5C1517.47 553.35 1523.83 553.9 1533.4 553.4C1542.97 552.9 1559.63 551.1 1567.4 550.5C1575.17 549.9 1572.9 549.97 1580 549.8C1587.1 549.63 1599.3 549.45 1610 549.5C1620.7 549.55 1629.2 549.55 1644.2 550.1C1659.2 550.65 1683.23 551.7 1700 552.8C1716.77 553.9 1728.13 555.42 1744.8 556.7C1761.47 557.98 1782.35 559.38 1800 560.5C1817.65 561.62 1830.7 562.73 1850.7 563.4C1870.7 564.07 1896.28 564.22 1920 564.5C1943.72 564.78 1980.83 565 1993 565.1" fill="none" stroke="#ff0000" stroke-width="5.4" stroke-linejoin="round" stroke-linecap="round"/>
<path d="M1154 568C1154.05 540 1154.13 444.67 1154.3 400C1154.47 355.33 1154.63 323.67 1155 300C1155.37 276.33 1155.83 266.83 1156.5 258C1157.17 249.17 1157.58 249.18 1159 247C1160.42 244.82 1162.87 243.15 1165 244.9C1167.13 246.65 1169.53 254.07 1171.8 257.5C1174.07 260.93 1176.33 265.9 1178.6 265.5C1180.87 265.1 1183.5 258.85 1185.4 255.1C1187.3 251.35 1188.48 245.93 1190 243C1191.52 240.07 1193 237.32 1194.5 237.5C1196 237.68 1197.38 240.06 1198.97 244.07C1200.57 248.09 1202.17 253.57 1204.09 261.6C1206 269.63 1208.24 281.69 1210.47 292.27C1212.71 302.86 1215.37 314.92 1217.5 325.14C1219.63 335.36 1221.02 341.94 1223.26 353.62C1225.49 365.31 1228.58 383.57 1230.92 395.25C1233.27 406.94 1235.18 416.43 1237.31 423.74C1239.44 431.04 1241.79 435.06 1243.7 439.07C1245.62 443.09 1247.22 445.46 1248.82 447.84C1250.41 450.21 1251.69 451.85 1253.29 453.31C1254.89 454.77 1255.19 458.14 1258.4 456.6C1261.61 455.06 1267.63 450.65 1272.54 444.1C1277.44 437.55 1282.35 428.92 1287.85 417.31C1293.35 405.7 1300.61 386.35 1305.52 374.44C1310.43 362.54 1313.37 354.8 1317.3 345.87C1321.23 336.94 1324.76 328.31 1329.08 320.86C1333.4 313.42 1337.92 307.47 1343.22 301.22C1348.52 294.97 1355.39 287.23 1360.89 283.36C1366.38 279.49 1372.68 278.46 1376.2 278C1379.72 277.54 1380.03 278.71 1382 280.61C1383.97 282.52 1386 284.93 1388 289.44C1390 293.95 1392 300.87 1394 307.69C1396 314.5 1398 322.51 1400 330.32C1402 338.12 1404 346.28 1406 354.51C1408 362.74 1410 370.82 1412 379.69C1414 388.56 1416 398.51 1418 407.74C1420 416.97 1422 426.31 1424 435.09C1426 443.87 1428 452.13 1430 460.42C1432 468.71 1434 476.94 1436 484.83C1438 492.71 1440 501.22 1442 507.73C1444 514.24 1445.83 518.94 1448 523.88C1450.17 528.82 1452.67 533.61 1455 537.36C1457.33 541.1 1459.5 543.78 1462 546.36C1464.5 548.93 1467.33 551.33 1470 552.79C1472.67 554.24 1474.9 554.78 1478 555.08C1481.1 555.38 1483.27 554.81 1488.6 554.6C1493.93 554.39 1502.53 553.95 1510 553.8C1517.47 553.65 1523.83 554.2 1533.4 553.7C1542.97 553.2 1559.63 551.4 1567.4 550.8C1575.17 550.2 1572.9 550.27 1580 550.1C1587.1 549.93 1599.3 549.75 1610 549.8C1620.7 549.85 1629.2 549.85 1644.2 550.4C1659.2 550.95 1683.23 552 1700 553.1C1716.77 554.2 1728.13 555.72 1744.8 557C1761.47 558.28 1782.35 559.68 1800 560.8C1817.65 561.92 1830.7 563.03 1850.7 563.7C1870.7 564.37 1896.28 564.52 1920 564.8C1943.72 565.08 1980.83 565.3 1993 565.4" fill="none" stroke="#00ff00" stroke-width="5.4" stroke-linejoin="round" stroke-linecap="round"/>
<path d="M1154.5 568C1154.55 545 1154.62 468 1154.8 430C1154.98 392 1155.15 361.67 1155.6 340C1156.05 318.33 1156.6 308.5 1157.5 300C1158.4 291.5 1159.57 291.17 1161 289C1162.43 286.83 1164.3 286.03 1166.1 287C1167.9 287.97 1169.92 292.55 1171.8 294.8C1173.68 297.05 1175.13 302.38 1177.4 300.5C1179.67 298.62 1183.13 288.42 1185.4 283.5C1187.67 278.58 1189.3 273.65 1191 271C1192.7 268.35 1194.07 267.19 1195.6 267.6C1197.13 268.01 1198.56 269.89 1200.2 273.48C1201.84 277.08 1203.48 281.98 1205.45 289.17C1207.43 296.36 1209.73 307.15 1212.02 316.62C1214.32 326.1 1217.06 336.89 1219.25 346.04C1221.44 355.19 1222.87 361.07 1225.16 371.53C1227.46 381.99 1230.64 398.33 1233.05 408.79C1235.46 419.25 1237.43 427.75 1239.62 434.28C1241.81 440.82 1244.22 444.42 1246.19 448.01C1248.16 451.61 1249.8 453.73 1251.44 455.86C1253.09 457.98 1254.4 459.45 1256.04 460.76C1257.69 462.07 1258.13 464.96 1261.3 463.7C1264.47 462.44 1270.3 458.69 1275.09 453.19C1279.88 447.68 1284.66 440.42 1290.03 430.66C1295.39 420.89 1302.47 404.62 1307.26 394.61C1312.05 384.59 1314.92 378.09 1318.75 370.58C1322.58 363.07 1326.03 355.81 1330.24 349.55C1334.45 343.29 1338.86 338.28 1344.03 333.03C1349.2 327.77 1355.9 321.26 1361.26 318.01C1366.62 314.75 1372.74 313.85 1376.2 313.5C1379.66 313.15 1380.03 314.13 1382 315.89C1383.97 317.64 1386 319.9 1388 324.01C1390 328.12 1392 334.42 1394 340.56C1396 346.7 1398 353.87 1400 360.86C1402 367.85 1404 375.12 1406 382.51C1408 389.91 1410 397.3 1412 405.25C1414 413.21 1416 422.04 1418 430.25C1420 438.46 1422 446.79 1424 454.53C1426 462.26 1428 469.31 1430 476.64C1432 483.98 1434 491.74 1436 498.52C1438 505.31 1440 511.98 1442 517.35C1444 522.72 1445.83 526.65 1448 530.73C1450.17 534.81 1452.67 538.73 1455 541.85C1457.33 544.97 1459.5 547.37 1462 549.43C1464.5 551.5 1467.33 553.13 1470 554.25C1472.67 555.37 1474.9 556.03 1478 556.13C1481.1 556.24 1483.27 555.24 1488.6 554.9C1493.93 554.56 1502.53 554.25 1510 554.1C1517.47 553.95 1523.83 554.5 1533.4 554C1542.97 553.5 1559.63 551.7 1567.4 551.1C1575.17 550.5 1572.9 550.57 1580 550.4C1587.1 550.23 1599.3 550.05 1610 550.1C1620.7 550.15 1629.2 550.15 1644.2 550.7C1659.2 551.25 1683.23 552.3 1700 553.4C1716.77 554.5 1728.13 556.02 1744.8 557.3C1761.47 558.58 1782.35 559.98 1800 561.1C1817.65 562.22 1830.7 563.33 1850.7 564C1870.7 564.67 1896.28 564.82 1920 565.1C1943.72 565.38 1980.83 565.6 1993 565.7" fill="none" stroke="#0000ff" stroke-width="5.4" stroke-linejoin="round" stroke-linecap="round"/>
<path d="M1155 568C1155.03 546.67 1155.15 469.67 1155.2 440C1155.25 410.33 1155.12 402.5 1155.3 390C1155.48 377.5 1155.85 372 1156.3 365C1156.75 358 1157.22 352.83 1158 348C1158.78 343.17 1159.83 338.75 1161 336C1162.17 333.25 1163.5 332.33 1165 331.5C1166.5 330.67 1168.17 331.75 1170 331C1171.83 330.25 1173.83 329.67 1176 327C1178.17 324.33 1180.67 319 1183 315C1185.33 311 1187.97 305.5 1190 303C1192.03 300.5 1193.53 299.65 1195.2 300C1196.87 300.35 1198.3 301.99 1200.02 305.12C1201.75 308.26 1203.47 312.53 1205.54 318.79C1207.6 325.05 1210.01 334.44 1212.42 342.7C1214.84 350.96 1217.71 360.35 1220 368.32C1222.3 376.29 1223.79 381.41 1226.2 390.52C1228.62 399.63 1231.95 413.87 1234.47 422.98C1237 432.09 1239.07 439.49 1241.36 445.18C1243.66 450.87 1246.19 454 1248.25 457.14C1250.32 460.27 1252.04 462.12 1253.76 463.97C1255.49 465.82 1256.87 467.1 1258.59 468.24C1260.31 469.38 1260.94 471.74 1264.1 470.8C1267.26 469.86 1272.88 466.88 1277.55 462.57C1282.22 458.27 1286.89 452.59 1292.12 444.95C1297.36 437.31 1304.27 424.58 1308.94 416.75C1313.61 408.92 1316.41 403.83 1320.15 397.95C1323.89 392.08 1327.25 386.4 1331.36 381.5C1335.47 376.6 1339.77 372.69 1344.81 368.58C1349.86 364.46 1356.4 359.37 1361.63 356.83C1366.86 354.28 1372.8 353.54 1376.2 353.3C1379.6 353.06 1380.03 353.85 1382 355.4C1383.97 356.95 1386 359 1388 362.61C1390 366.22 1392 371.73 1394 377.06C1396 382.39 1398 388.56 1400 394.59C1402 400.62 1404 406.83 1406 413.23C1408 419.64 1410 426.16 1412 433.01C1414 439.86 1416 447.31 1418 454.33C1420 461.35 1422 468.58 1424 475.14C1426 481.69 1428 487.43 1430 493.66C1432 499.89 1434 506.95 1436 512.53C1438 518.11 1440 522.96 1442 527.15C1444 531.34 1445.83 534.45 1448 537.64C1450.17 540.84 1452.67 543.9 1455 546.32C1457.33 548.74 1459.5 550.62 1462 552.18C1464.5 553.73 1467.33 554.95 1470 555.66C1472.67 556.37 1474.9 556.51 1478 556.43C1481.1 556.36 1483.27 555.54 1488.6 555.2C1493.93 554.86 1502.53 554.55 1510 554.4C1517.47 554.25 1523.83 554.8 1533.4 554.3C1542.97 553.8 1559.63 552 1567.4 551.4C1575.17 550.8 1572.9 550.87 1580 550.7C1587.1 550.53 1599.3 550.35 1610 550.4C1620.7 550.45 1629.2 550.45 1644.2 551C1659.2 551.55 1683.23 552.6 1700 553.7C1716.77 554.8 1728.13 556.32 1744.8 557.6C1761.47 558.88 1782.35 560.28 1800 561.4C1817.65 562.52 1830.7 563.63 1850.7 564.3C1870.7 564.97 1896.28 565.12 1920 565.4C1943.72 565.68 1980.83 565.9 1993 566" fill="none" stroke="#00ffff" stroke-width="5.4" stroke-linejoin="round" stroke-linecap="round"/>
<path d="M1155.5 568C1155.48 551.67 1155.4 493 1155.4 470C1155.4 447 1155.37 440.33 1155.5 430C1155.63 419.67 1155.7 414.07 1156.2 408C1156.7 401.93 1157.55 399.55 1158.5 393.6C1159.45 387.65 1160.77 377.97 1161.9 372.3C1163.03 366.63 1164.17 362.57 1165.3 359.6C1166.43 356.63 1167.28 355.78 1168.7 354.5C1170.12 353.22 1172.23 353.03 1173.8 351.9C1175.37 350.77 1176.68 349.97 1178.1 347.7C1179.52 345.43 1180.6 342 1182.3 338.3C1184 334.6 1186.02 329.75 1188.3 325.5C1190.58 321.25 1193.87 314.11 1196 312.8C1198.13 311.49 1199.26 314.69 1201.07 317.67C1202.88 320.64 1204.69 324.69 1206.86 330.64C1209.03 336.59 1211.57 345.51 1214.1 353.35C1216.63 361.19 1219.65 370.11 1222.06 377.68C1224.48 385.25 1226.05 390.12 1228.58 398.77C1231.11 407.42 1234.61 420.93 1237.27 429.58C1239.92 438.23 1242.09 445.26 1244.51 450.67C1246.92 456.08 1249.58 459.05 1251.75 462.02C1253.92 465 1255.73 466.75 1257.54 468.51C1259.35 470.27 1260.8 471.49 1262.61 472.57C1264.42 473.65 1265.28 475.75 1268.4 475C1271.52 474.25 1276.84 471.7 1281.34 468.07C1285.83 464.44 1290.32 459.66 1295.35 453.22C1300.38 446.79 1307.03 436.06 1311.52 429.46C1316.01 422.86 1318.71 418.57 1322.3 413.62C1325.89 408.67 1329.13 403.88 1333.08 399.76C1337.03 395.63 1341.16 392.33 1346.02 388.87C1350.87 385.41 1357.16 381.12 1362.19 378.97C1367.22 376.83 1372.9 376.17 1376.2 376C1379.5 375.83 1380.03 376.5 1382 377.92C1383.97 379.35 1386 381.26 1388 384.56C1390 387.86 1392 392.88 1394 397.73C1396 402.57 1398 408.15 1400 413.6C1402 419.06 1404 424.65 1406 430.46C1408 436.27 1410 442.25 1412 448.45C1414 454.64 1416 461.33 1418 467.63C1420 473.93 1422 480.37 1424 486.25C1426 492.12 1428 497.26 1430 502.88C1432 508.49 1434 515.05 1436 519.96C1438 524.88 1440 528.81 1442 532.37C1444 535.93 1445.83 538.61 1448 541.33C1450.17 544.06 1452.67 546.67 1455 548.73C1457.33 550.79 1459.5 552.39 1462 553.68C1464.5 554.98 1467.33 555.98 1470 556.49C1472.67 557 1474.9 556.9 1478 556.73C1481.1 556.57 1483.27 555.84 1488.6 555.5C1493.93 555.16 1502.53 554.85 1510 554.7C1517.47 554.55 1523.83 555.1 1533.4 554.6C1542.97 554.1 1559.63 552.3 1567.4 551.7C1575.17 551.1 1572.9 551.17 1580 551C1587.1 550.83 1599.3 550.65 1610 550.7C1620.7 550.75 1629.2 550.75 1644.2 551.3C1659.2 551.85 1683.23 552.9 1700 554C1716.77 555.1 1728.13 556.62 1744.8 557.9C1761.47 559.18 1782.35 560.58 1800 561.7C1817.65 562.82 1830.7 563.93 1850.7 564.6C1870.7 565.27 1896.28 565.42 1920 565.7C1943.72 565.98 1980.83 566.2 1993 566.3" fill="none" stroke="#ff00ff" stroke-width="5.4" stroke-linejoin="round" stroke-linecap="round"/>
<path d="M1153.6 568C1153.63 553.33 1153.57 503.83 1153.8 480C1154.03 456.17 1154.5 436.57 1155 425C1155.5 413.43 1156.07 415.12 1156.8 410.6C1157.53 406.08 1158.4 402.15 1159.4 397.9C1160.4 393.65 1161.53 388.93 1162.8 385.1C1164.07 381.27 1165.45 378.02 1167 374.9C1168.55 371.78 1170.25 369.23 1172.1 366.4C1173.95 363.57 1176.12 360.73 1178.1 357.9C1180.08 355.07 1182.02 352.67 1184 349.4C1185.98 346.13 1188 341.43 1190 338.3C1192 335.17 1194.07 331.14 1196 330.6C1197.93 330.06 1199.58 332.33 1201.57 335.06C1203.55 337.79 1205.54 341.5 1207.92 346.96C1210.31 352.41 1213.09 360.59 1215.88 367.78C1218.66 374.96 1221.97 383.14 1224.62 390.08C1227.27 397.02 1228.99 401.48 1231.78 409.41C1234.56 417.34 1238.4 429.73 1241.32 437.66C1244.23 445.59 1246.62 452.04 1249.27 457C1251.91 461.95 1254.83 464.68 1257.21 467.4C1259.6 470.13 1261.59 471.74 1263.58 473.35C1265.56 474.96 1267.15 476.08 1269.14 477.07C1271.13 478.06 1272.43 479.9 1275.5 479.3C1278.57 478.7 1283.39 476.51 1287.58 473.44C1291.78 470.37 1295.98 466.33 1300.67 460.89C1305.37 455.45 1311.58 446.38 1315.78 440.8C1319.98 435.22 1322.49 431.59 1325.85 427.41C1329.21 423.22 1332.23 419.18 1335.92 415.69C1339.61 412.2 1343.47 409.41 1348 406.48C1352.54 403.55 1358.41 399.92 1363.11 398.11C1367.81 396.3 1373.05 395.73 1376.2 395.6C1379.35 395.47 1380.03 396.05 1382 397.36C1383.97 398.67 1386 400.44 1388 403.46C1390 406.47 1392 411.07 1394 415.47C1396 419.87 1398 424.93 1400 429.87C1402 434.82 1404 439.87 1406 445.15C1408 450.42 1410 455.91 1412 461.52C1414 467.13 1416 473.16 1418 478.82C1420 484.48 1422 490.2 1424 495.48C1426 500.76 1428 505.43 1430 510.51C1432 515.6 1434 521.66 1436 526.01C1438 530.36 1440 533.57 1442 536.62C1444 539.68 1445.83 541.99 1448 544.34C1450.17 546.68 1452.67 548.92 1455 550.68C1457.33 552.45 1459.5 553.83 1462 554.91C1464.5 556 1467.33 556.83 1470 557.18C1472.67 557.54 1474.9 557.27 1478 557.03C1481.1 556.8 1483.27 556.14 1488.6 555.8C1493.93 555.46 1502.53 555.15 1510 555C1517.47 554.85 1523.83 555.4 1533.4 554.9C1542.97 554.4 1559.63 552.6 1567.4 552C1575.17 551.4 1572.9 551.47 1580 551.3C1587.1 551.13 1599.3 550.95 1610 551C1620.7 551.05 1629.2 551.05 1644.2 551.6C1659.2 552.15 1683.23 553.2 1700 554.3C1716.77 555.4 1728.13 556.92 1744.8 558.2C1761.47 559.48 1782.35 560.88 1800 562C1817.65 563.12 1830.7 564.23 1850.7 564.9C1870.7 565.57 1896.28 565.72 1920 566C1943.72 566.28 1980.83 566.5 1993 566.6" fill="none" stroke="#ffff00" stroke-width="5.4" stroke-linejoin="round" stroke-linecap="round"/>
<path d="M1153.4 568C1153.43 553.33 1153.25 500.5 1153.6 480C1153.95 459.5 1154.77 453.33 1155.5 445C1156.23 436.67 1157.07 434.32 1158 430C1158.93 425.68 1160.02 423.03 1161.1 419.1C1162.18 415.17 1163.08 410.65 1164.5 406.4C1165.92 402.15 1167.77 397.43 1169.6 393.6C1171.43 389.77 1173.67 386.95 1175.5 383.4C1177.33 379.85 1178.9 375.98 1180.6 372.3C1182.3 368.62 1183.98 364.83 1185.7 361.3C1187.42 357.77 1189.05 353.65 1190.9 351.1C1192.75 348.55 1194.82 346.15 1196.8 346C1198.78 345.85 1200.66 347.62 1202.81 350.17C1204.95 352.72 1207.1 356.19 1209.67 361.29C1212.24 366.39 1215.25 374.03 1218.25 380.75C1221.25 387.47 1224.83 395.11 1227.69 401.6C1230.55 408.09 1232.41 412.26 1235.41 419.67C1238.41 427.08 1242.56 438.67 1245.71 446.08C1248.85 453.49 1251.43 459.52 1254.29 464.15C1257.15 468.78 1260.29 471.33 1262.87 473.88C1265.44 476.43 1267.59 477.93 1269.73 479.44C1271.88 480.95 1273.59 481.99 1275.74 482.91C1277.88 483.84 1279.58 485.48 1282.6 485C1285.62 484.52 1289.93 482.63 1293.83 480.03C1297.73 477.43 1301.63 474 1306 469.38C1310.37 464.76 1316.14 457.07 1320.04 452.34C1323.94 447.61 1326.28 444.53 1329.4 440.98C1332.52 437.43 1335.33 434 1338.76 431.04C1342.19 428.08 1345.78 425.72 1349.99 423.23C1354.2 420.75 1359.66 417.67 1364.03 416.13C1368.4 414.59 1373.21 414.09 1376.2 414C1379.19 413.91 1380.03 414.41 1382 415.6C1383.97 416.79 1386 418.41 1388 421.14C1390 423.88 1392 428.03 1394 432C1396 435.97 1398 440.51 1400 444.95C1402 449.4 1404 453.92 1406 458.67C1408 463.42 1410 468.4 1412 473.44C1414 478.48 1416 483.87 1418 488.91C1420 493.96 1422 498.98 1424 503.7C1426 508.41 1428 512.68 1430 517.21C1432 521.75 1434 527.09 1436 530.91C1438 534.72 1440 537.48 1442 540.11C1444 542.75 1445.83 544.7 1448 546.7C1450.17 548.7 1452.67 550.61 1455 552.11C1457.33 553.61 1459.5 554.79 1462 555.69C1464.5 556.59 1467.33 557.28 1470 557.5C1472.67 557.73 1474.9 557.32 1478 557.03C1481.1 556.75 1483.27 556.14 1488.6 555.8C1493.93 555.46 1502.53 555.15 1510 555C1517.47 554.85 1523.83 555.4 1533.4 554.9C1542.97 554.4 1559.63 552.6 1567.4 552C1575.17 551.4 1572.9 551.47 1580 551.3C1587.1 551.13 1599.3 550.95 1610 551C1620.7 551.05 1629.2 551.05 1644.2 551.6C1659.2 552.15 1683.23 553.2 1700 554.3C1716.77 555.4 1728.13 556.92 1744.8 558.2C1761.47 559.48 1782.35 560.88 1800 562C1817.65 563.12 1830.7 564.23 1850.7 564.9C1870.7 565.57 1896.28 565.72 1920 566C1943.72 566.28 1980.83 566.5 1993 566.6" fill="none" stroke="#808000" stroke-width="5.4" stroke-linejoin="round" stroke-linecap="round"/>
<path d="M1153.5 568C1153.58 556.67 1153.42 518 1154 500C1154.58 482 1155.83 470 1157 460C1158.17 450 1159.33 446.82 1161 440C1162.67 433.18 1165.15 425.42 1167 419.1C1168.85 412.78 1170.25 407.05 1172.1 402.1C1173.95 397.15 1176.12 393.65 1178.1 389.4C1180.08 385.15 1182.02 380.43 1184 376.6C1185.98 372.77 1187.87 369.38 1190 366.4C1192.13 363.42 1194.63 359.32 1196.8 358.7C1198.97 358.08 1200.79 360.24 1203 362.66C1205.22 365.08 1207.43 368.37 1210.09 373.21C1212.75 378.05 1215.85 385.3 1218.95 391.68C1222.05 398.05 1225.74 405.3 1228.7 411.46C1231.65 417.62 1233.57 421.57 1236.67 428.61C1239.77 435.64 1244.05 446.63 1247.3 453.67C1250.55 460.7 1253.21 466.42 1256.16 470.81C1259.12 475.21 1262.36 477.63 1265.02 480.05C1267.68 482.47 1269.9 483.9 1272.11 485.32C1274.33 486.75 1276.1 487.74 1278.31 488.62C1280.53 489.5 1282.4 490.94 1285.4 490.6C1288.4 490.26 1292.51 488.68 1296.3 486.57C1300.08 484.46 1303.86 481.67 1308.1 477.93C1312.34 474.18 1317.94 467.94 1321.72 464.1C1325.5 460.26 1327.77 457.77 1330.8 454.89C1333.83 452.01 1336.55 449.22 1339.88 446.82C1343.21 444.42 1346.69 442.5 1350.78 440.49C1354.86 438.47 1360.16 435.98 1364.4 434.73C1368.63 433.48 1373.27 433.05 1376.2 433C1379.13 432.95 1380.03 433.36 1382 434.42C1383.97 435.48 1386 436.93 1388 439.36C1390 441.78 1392 445.47 1394 448.97C1396 452.47 1398 456.46 1400 460.38C1402 464.29 1404 468.26 1406 472.44C1408 476.63 1410 481.06 1412 485.5C1414 489.93 1416 494.65 1418 499.05C1420 503.45 1422 507.77 1424 511.89C1426 516.02 1428 519.89 1430 523.8C1432 527.71 1434 532.12 1436 535.36C1438 538.6 1440 540.98 1442 543.24C1444 545.5 1445.83 547.24 1448 548.93C1450.17 550.63 1452.67 552.21 1455 553.43C1457.33 554.66 1459.5 555.57 1462 556.29C1464.5 557.02 1467.33 557.65 1470 557.78C1472.67 557.9 1474.9 557.36 1478 557.03C1481.1 556.71 1483.27 556.14 1488.6 555.8C1493.93 555.46 1502.53 555.15 1510 555C1517.47 554.85 1523.83 555.4 1533.4 554.9C1542.97 554.4 1559.63 552.6 1567.4 552C1575.17 551.4 1572.9 551.47 1580 551.3C1587.1 551.13 1599.3 550.95 1610 551C1620.7 551.05 1629.2 551.05 1644.2 551.6C1659.2 552.15 1683.23 553.2 1700 554.3C1716.77 555.4 1728.13 556.92 1744.8 558.2C1761.47 559.48 1782.35 560.88 1800 562C1817.65 563.12 1830.7 564.23 1850.7 564.9C1870.7 565.57 1896.28 565.72 1920 566C1943.72 566.28 1980.83 566.5 1993 566.6" fill="none" stroke="#000080" stroke-width="5.4" stroke-linejoin="round" stroke-linecap="round"/>
<path d="M1153.6 568C1153.75 558.33 1153.77 524.67 1154.5 510C1155.23 495.33 1156.58 489.17 1158 480C1159.42 470.83 1161.17 462.5 1163 455C1164.83 447.5 1167.05 440.98 1169 435C1170.95 429.02 1172.9 424.58 1174.7 419.1C1176.5 413.62 1177.97 407.05 1179.8 402.1C1181.63 397.15 1183.85 393.23 1185.7 389.4C1187.55 385.57 1188.9 382.23 1190.9 379.1C1192.9 375.97 1195.49 371.39 1197.7 370.6C1199.91 369.81 1201.84 372.07 1204.13 374.37C1206.43 376.68 1208.73 379.82 1211.49 384.43C1214.24 389.04 1217.46 395.95 1220.67 402.03C1223.89 408.1 1227.72 415.01 1230.78 420.88C1233.85 426.75 1235.84 430.52 1239.06 437.22C1242.27 443.93 1246.71 454.4 1250.08 461.1C1253.45 467.81 1256.21 473.25 1259.27 477.44C1262.34 481.63 1265.71 483.94 1268.46 486.24C1271.22 488.55 1273.52 489.91 1275.81 491.27C1278.11 492.63 1279.95 493.58 1282.25 494.41C1284.55 495.25 1286.64 496.54 1289.6 496.3C1292.56 496.06 1296.38 494.71 1299.99 492.95C1303.6 491.2 1307.21 488.89 1311.25 485.78C1315.29 482.68 1320.63 477.5 1324.24 474.31C1327.85 471.13 1330.01 469.05 1332.9 466.66C1335.79 464.27 1338.38 461.96 1341.56 459.97C1344.74 457.98 1348.06 456.39 1351.95 454.71C1355.85 453.04 1360.9 450.97 1364.94 449.93C1368.98 448.9 1373.36 448.53 1376.2 448.5C1379.04 448.47 1380.03 448.82 1382 449.76C1383.97 450.71 1386 452.02 1388 454.19C1390 456.35 1392 459.63 1394 462.74C1396 465.85 1398 469.38 1400 472.85C1402 476.31 1404 479.82 1406 483.53C1408 487.25 1410 491.21 1412 495.14C1414 499.06 1416 503.23 1418 507.1C1420 510.97 1422 514.72 1424 518.36C1426 521.99 1428 525.5 1430 528.91C1432 532.31 1434 536.02 1436 538.79C1438 541.57 1440 543.61 1442 545.55C1444 547.49 1445.83 548.98 1448 550.44C1450.17 551.89 1452.67 553.24 1455 554.28C1457.33 555.32 1459.5 556.04 1462 556.65C1464.5 557.26 1467.33 557.89 1470 557.95C1472.67 558.02 1474.9 557.39 1478 557.03C1481.1 556.68 1483.27 556.14 1488.6 555.8C1493.93 555.46 1502.53 555.15 1510 555C1517.47 554.85 1523.83 555.4 1533.4 554.9C1542.97 554.4 1559.63 552.6 1567.4 552C1575.17 551.4 1572.9 551.47 1580 551.3C1587.1 551.13 1599.3 550.95 1610 551C1620.7 551.05 1629.2 551.05 1644.2 551.6C1659.2 552.15 1683.23 553.2 1700 554.3C1716.77 555.4 1728.13 556.92 1744.8 558.2C1761.47 559.48 1782.35 560.88 1800 562C1817.65 563.12 1830.7 564.23 1850.7 564.9C1870.7 565.57 1896.28 565.72 1920 566C1943.72 566.28 1980.83 566.5 1993 566.6" fill="none" stroke="#800080" stroke-width="5.4" stroke-linejoin="round" stroke-linecap="round"/>
<path d="M1153.8 568C1153.83 560 1153.3 533.83 1154 520C1154.7 506.17 1156.33 495 1158 485C1159.67 475 1161.83 467.5 1164 460C1166.17 452.5 1169 445 1171 440C1173 435 1174.12 433.48 1176 430C1177.88 426.52 1180.53 423.03 1182.3 419.1C1184.07 415.17 1184.88 410.93 1186.6 406.4C1188.32 401.87 1190.62 395.58 1192.6 391.9C1194.58 388.22 1196.42 384.99 1198.5 384.3C1200.58 383.61 1202.73 385.66 1205.08 387.79C1207.43 389.92 1209.78 392.83 1212.6 397.09C1215.42 401.36 1218.71 407.75 1222 413.38C1225.29 419 1229.21 425.39 1232.34 430.82C1235.47 436.25 1237.51 439.74 1240.8 445.94C1244.09 452.14 1248.63 461.83 1252.08 468.04C1255.53 474.24 1258.35 479.28 1261.48 483.16C1264.61 487.03 1268.06 489.16 1270.88 491.3C1273.7 493.43 1276.05 494.69 1278.4 495.95C1280.75 497.21 1282.63 498.08 1284.98 498.86C1287.33 499.63 1289.57 500.74 1292.5 500.6C1295.43 500.46 1299.06 499.38 1302.54 498.04C1306.03 496.7 1309.52 494.93 1313.42 492.55C1317.33 490.17 1322.49 486.2 1325.98 483.76C1329.47 481.32 1331.56 479.74 1334.35 477.91C1337.14 476.08 1339.65 474.31 1342.72 472.78C1345.79 471.26 1349 470.04 1352.76 468.76C1356.53 467.48 1361.41 465.89 1365.32 465.1C1369.22 464.31 1373.42 464 1376.2 464C1378.98 464 1380.03 464.27 1382 465.1C1383.97 465.93 1386 467.09 1388 468.98C1390 470.87 1392 473.73 1394 476.44C1396 479.14 1398 482.21 1400 485.22C1402 488.22 1404 491.26 1406 494.49C1408 497.72 1410 501.18 1412 504.59C1414 508 1416 511.6 1418 514.93C1420 518.27 1422 521.47 1424 524.61C1426 527.75 1428 530.87 1430 533.78C1432 536.68 1434 539.73 1436 542.05C1438 544.38 1440 546.1 1442 547.73C1444 549.35 1445.83 550.58 1448 551.8C1450.17 553.02 1452.67 554.16 1455 555.02C1457.33 555.88 1459.5 556.49 1462 556.98C1464.5 557.47 1467.33 557.96 1470 557.97C1472.67 557.98 1474.9 557.4 1478 557.03C1481.1 556.67 1483.27 556.14 1488.6 555.8C1493.93 555.46 1502.53 555.15 1510 555C1517.47 554.85 1523.83 555.4 1533.4 554.9C1542.97 554.4 1559.63 552.6 1567.4 552C1575.17 551.4 1572.9 551.47 1580 551.3C1587.1 551.13 1599.3 550.95 1610 551C1620.7 551.05 1629.2 551.05 1644.2 551.6C1659.2 552.15 1683.23 553.2 1700 554.3C1716.77 555.4 1728.13 556.92 1744.8 558.2C1761.47 559.48 1782.35 560.88 1800 562C1817.65 563.12 1830.7 564.23 1850.7 564.9C1870.7 565.57 1896.28 565.72 1920 566C1943.72 566.28 1980.83 566.5 1993 566.6" fill="none" stroke="#800000" stroke-width="5.4" stroke-linejoin="round" stroke-linecap="round"/>
<path d="M1154.2 568C1154.6 559.73 1155.05 533.3 1156.6 518.4C1158.15 503.5 1160.37 491.83 1163.5 478.6C1166.63 465.37 1171.75 448.93 1175.4 439C1179.05 429.07 1182.3 424.67 1185.4 419C1188.5 413.33 1191.38 408.08 1194 405C1196.62 401.92 1198.8 400.7 1201.1 400.5C1203.4 400.3 1205.4 401.78 1207.79 403.8C1210.18 405.82 1212.57 408.57 1215.44 412.6C1218.31 416.63 1221.65 422.68 1225 428C1228.35 433.32 1232.33 439.37 1235.52 444.5C1238.7 449.63 1240.77 452.93 1244.12 458.8C1247.47 464.67 1252.09 473.83 1255.59 479.7C1259.1 485.57 1261.97 490.33 1265.15 494C1268.34 497.67 1271.84 499.68 1274.71 501.7C1277.58 503.72 1279.97 504.91 1282.36 506.1C1284.75 507.29 1286.66 508.12 1289.05 508.85C1291.44 509.58 1293.84 510.52 1296.7 510.5C1299.56 510.48 1302.93 509.67 1306.24 508.75C1309.55 507.83 1312.87 506.62 1316.58 505C1320.29 503.38 1325.19 500.67 1328.5 499C1331.81 497.33 1333.8 496.25 1336.45 495C1339.1 493.75 1341.49 492.54 1344.4 491.5C1347.32 490.46 1350.36 489.62 1353.94 488.75C1357.52 487.88 1362.15 486.79 1365.87 486.25C1369.58 485.71 1373.51 485.48 1376.2 485.5C1378.89 485.52 1380.03 485.71 1382 486.37C1383.97 487.03 1386 487.96 1388 489.45C1390 490.94 1392 493.19 1394 495.32C1396 497.44 1398 499.84 1400 502.19C1402 504.55 1404 506.91 1406 509.45C1408 511.98 1410 514.73 1412 517.4C1414 520.07 1416 522.87 1418 525.46C1420 528.04 1422 530.48 1424 532.92C1426 535.37 1428 537.89 1430 540.11C1432 542.34 1434 544.54 1436 546.27C1438 548.01 1440 549.3 1442 550.51C1444 551.72 1445.83 552.62 1448 553.52C1450.17 554.43 1452.67 555.29 1455 555.93C1457.33 556.57 1459.5 557.02 1462 557.36C1464.5 557.7 1467.33 558.02 1470 557.97C1472.67 557.91 1474.9 557.4 1478 557.03C1481.1 556.67 1483.27 556.14 1488.6 555.8C1493.93 555.46 1502.53 555.15 1510 555C1517.47 554.85 1523.83 555.4 1533.4 554.9C1542.97 554.4 1559.63 552.6 1567.4 552C1575.17 551.4 1572.9 551.47 1580 551.3C1587.1 551.13 1599.3 550.95 1610 551C1620.7 551.05 1629.2 551.05 1644.2 551.6C1659.2 552.15 1683.23 553.2 1700 554.3C1716.77 555.4 1728.13 556.92 1744.8 558.2C1761.47 559.48 1782.35 560.88 1800 562C1817.65 563.12 1830.7 564.23 1850.7 564.9C1870.7 565.57 1896.28 565.72 1920 566C1943.72 566.28 1980.83 566.5 1993 566.6" fill="none" stroke="#008000" stroke-width="5.4" stroke-linejoin="round" stroke-linecap="round"/>
<path d="M1154.7 568C1155.12 560 1155.48 534.67 1157.2 520C1158.92 505.33 1161.7 493.33 1165 480C1168.3 466.67 1173.33 449.83 1177 440C1180.67 430.17 1184 426.08 1187 421C1190 415.92 1192.65 412.08 1195 409.5C1197.35 406.92 1198.94 405.63 1201.1 405.5C1203.26 405.37 1205.51 406.75 1207.95 408.73C1210.4 410.7 1212.85 413.38 1215.78 417.32C1218.72 421.27 1222.15 427.18 1225.57 432.38C1229 437.57 1233.08 443.48 1236.34 448.5C1239.61 453.52 1241.73 456.74 1245.15 462.48C1248.58 468.21 1253.31 477.17 1256.9 482.9C1260.49 488.63 1263.43 493.29 1266.69 496.88C1269.96 500.46 1273.55 502.43 1276.48 504.4C1279.42 506.37 1281.87 507.54 1284.32 508.7C1286.76 509.86 1288.72 510.67 1291.17 511.39C1293.62 512.1 1296.15 512.94 1299 513C1301.85 513.06 1305.05 512.4 1308.26 511.74C1311.48 511.08 1314.7 510.21 1318.3 509.04C1321.9 507.87 1326.66 505.92 1329.88 504.72C1333.1 503.52 1335.03 502.74 1337.6 501.84C1340.17 500.94 1342.49 500.07 1345.32 499.32C1348.15 498.57 1351.11 497.97 1354.58 497.34C1358.06 496.71 1362.56 495.93 1366.16 495.54C1369.77 495.15 1373.56 494.96 1376.2 495C1378.84 495.04 1380.03 495.19 1382 495.77C1383.97 496.34 1386 497.16 1388 498.47C1390 499.78 1392 501.75 1394 503.61C1396 505.47 1398 507.57 1400 509.63C1402 511.69 1404 513.75 1406 515.97C1408 518.19 1410 520.6 1412 522.94C1414 525.27 1416 527.72 1418 529.97C1420 532.22 1422 534.33 1424 536.46C1426 538.59 1428 540.83 1430 542.76C1432 544.68 1434 546.54 1436 548.02C1438 549.5 1440 550.62 1442 551.65C1444 552.69 1445.83 553.45 1448 554.22C1450.17 554.99 1452.67 555.74 1455 556.29C1457.33 556.83 1459.5 557.23 1462 557.51C1464.5 557.79 1467.33 558.05 1470 557.97C1472.67 557.89 1474.9 557.4 1478 557.03C1481.1 556.67 1483.27 556.14 1488.6 555.8C1493.93 555.46 1502.53 555.15 1510 555C1517.47 554.85 1523.83 555.4 1533.4 554.9C1542.97 554.4 1559.63 552.6 1567.4 552C1575.17 551.4 1572.9 551.47 1580 551.3C1587.1 551.13 1599.3 550.95 1610 551C1620.7 551.05 1629.2 551.05 1644.2 551.6C1659.2 552.15 1683.23 553.2 1700 554.3C1716.77 555.4 1728.13 556.92 1744.8 558.2C1761.47 559.48 1782.35 560.88 1800 562C1817.65 563.12 1830.7 564.23 1850.7 564.9C1870.7 565.57 1896.28 565.72 1920 566C1943.72 566.28 1980.83 566.5 1993 566.6" fill="none" stroke="#008080" stroke-width="5.4" stroke-linejoin="round" stroke-linecap="round"/>
<path d="M1155 568C1155.43 560.17 1155.8 535.5 1157.6 521C1159.4 506.5 1162.43 494.33 1165.8 481C1169.17 467.67 1174.1 450.5 1177.8 441C1181.5 431.5 1185.05 428.83 1188 424C1190.95 419.17 1193.32 414.58 1195.5 412C1197.68 409.42 1199.01 408.56 1201.1 408.5C1203.19 408.44 1205.55 409.73 1208.02 411.67C1210.5 413.6 1212.97 416.24 1215.93 420.11C1218.9 423.97 1222.36 429.78 1225.82 434.88C1229.29 439.97 1233.41 445.78 1236.7 450.7C1240 455.62 1242.14 458.79 1245.61 464.42C1249.07 470.04 1253.85 478.83 1257.47 484.46C1261.1 490.09 1264.07 494.66 1267.36 498.18C1270.66 501.69 1274.29 503.63 1277.25 505.56C1280.22 507.49 1282.69 508.64 1285.16 509.78C1287.64 510.92 1289.62 511.71 1292.09 512.42C1294.56 513.12 1297.16 513.91 1300 514C1302.84 514.09 1305.97 513.51 1309.14 512.97C1312.32 512.43 1315.49 511.72 1319.05 510.77C1322.61 509.81 1327.31 508.22 1330.48 507.24C1333.65 506.26 1335.56 505.62 1338.1 504.89C1340.64 504.15 1342.93 503.44 1345.72 502.83C1348.51 502.22 1351.43 501.73 1354.86 501.21C1358.29 500.7 1362.74 500.06 1366.29 499.74C1369.85 499.42 1373.58 499.25 1376.2 499.3C1378.82 499.35 1380.03 499.48 1382 500.02C1383.97 500.56 1386 501.32 1388 502.55C1390 503.77 1392 505.62 1394 507.36C1396 509.1 1398 511.06 1400 512.98C1402 514.9 1404 516.83 1406 518.9C1408 520.98 1410 523.24 1412 525.42C1414 527.6 1416 529.88 1418 531.99C1420 534.09 1422 536.04 1424 538.03C1426 540.02 1428 542.13 1430 543.92C1432 545.71 1434 547.42 1436 548.79C1438 550.16 1440 551.19 1442 552.15C1444 553.11 1445.83 553.81 1448 554.52C1450.17 555.24 1452.67 555.93 1455 556.44C1457.33 556.95 1459.5 557.31 1462 557.57C1464.5 557.82 1467.33 558.06 1470 557.97C1472.67 557.88 1474.9 557.4 1478 557.03C1481.1 556.67 1483.27 556.14 1488.6 555.8C1493.93 555.46 1502.53 555.15 1510 555C1517.47 554.85 1523.83 555.4 1533.4 554.9C1542.97 554.4 1559.63 552.6 1567.4 552C1575.17 551.4 1572.9 551.47 1580 551.3C1587.1 551.13 1599.3 550.95 1610 551C1620.7 551.05 1629.2 551.05 1644.2 551.6C1659.2 552.15 1683.23 553.2 1700 554.3C1716.77 555.4 1728.13 556.92 1744.8 558.2C1761.47 559.48 1782.35 560.88 1800 562C1817.65 563.12 1830.7 564.23 1850.7 564.9C1870.7 565.57 1896.28 565.72 1920 566C1943.72 566.28 1980.83 566.5 1993 566.6" fill="none" stroke="#7fa6ff" stroke-width="5.4" stroke-linejoin="round" stroke-linecap="round"/>
<path d="M1155.3 568C1155.75 560.33 1156.13 536.33 1158 522C1159.87 507.67 1163.08 495.17 1166.5 482C1169.92 468.83 1174.75 452.17 1178.5 443C1182.25 433.83 1186.08 431.75 1189 427C1191.92 422.25 1193.92 417.17 1196 414.5C1198.08 411.83 1199.42 411.06 1201.5 411C1203.58 410.94 1205.98 412.22 1208.46 414.15C1210.95 416.07 1213.44 418.7 1216.42 422.55C1219.41 426.4 1222.89 432.18 1226.38 437.25C1229.86 442.32 1234 448.1 1237.32 453C1240.64 457.9 1242.79 461.05 1246.28 466.65C1249.76 472.25 1254.57 481 1258.21 486.6C1261.86 492.2 1264.85 496.75 1268.16 500.25C1271.48 503.75 1275.13 505.68 1278.12 507.6C1281.1 509.53 1283.59 510.66 1286.08 511.8C1288.56 512.94 1290.55 513.72 1293.04 514.42C1295.53 515.12 1298.17 515.89 1301 516C1303.83 516.11 1306.89 515.57 1310.02 515.09C1313.16 514.61 1316.29 513.99 1319.8 513.14C1323.31 512.29 1327.95 510.89 1331.08 510.02C1334.21 509.15 1336.09 508.59 1338.6 507.94C1341.11 507.29 1343.36 506.66 1346.12 506.12C1348.88 505.58 1351.76 505.14 1355.14 504.69C1358.53 504.24 1362.91 503.67 1366.42 503.39C1369.93 503.11 1373.6 502.95 1376.2 503C1378.8 503.05 1380.03 503.16 1382 503.67C1383.97 504.18 1386 504.9 1388 506.05C1390 507.21 1392 508.94 1394 510.58C1396 512.21 1398 514.05 1400 515.86C1402 517.66 1404 519.47 1406 521.42C1408 523.37 1410 525.5 1412 527.54C1414 529.59 1416 531.73 1418 533.71C1420 535.68 1422 537.51 1424 539.37C1426 541.24 1428 543.23 1430 544.9C1432 546.58 1434 548.16 1436 549.44C1438 550.71 1440 551.68 1442 552.57C1444 553.46 1445.83 554.11 1448 554.78C1450.17 555.44 1452.67 556.09 1455 556.57C1457.33 557.04 1459.5 557.38 1462 557.62C1464.5 557.85 1467.33 558.06 1470 557.97C1472.67 557.87 1474.9 557.4 1478 557.03C1481.1 556.67 1483.27 556.14 1488.6 555.8C1493.93 555.46 1502.53 555.15 1510 555C1517.47 554.85 1523.83 555.4 1533.4 554.9C1542.97 554.4 1559.63 552.6 1567.4 552C1575.17 551.4 1572.9 551.47 1580 551.3C1587.1 551.13 1599.3 550.95 1610 551C1620.7 551.05 1629.2 551.05 1644.2 551.6C1659.2 552.15 1683.23 553.2 1700 554.3C1716.77 555.4 1728.13 556.92 1744.8 558.2C1761.47 559.48 1782.35 560.88 1800 562C1817.65 563.12 1830.7 564.23 1850.7 564.9C1870.7 565.57 1896.28 565.72 1920 566C1943.72 566.28 1980.83 566.5 1993 566.6" fill="none" stroke="#0000a0" stroke-width="5.4" stroke-linejoin="round" stroke-linecap="round"/>
<path d="M1156.2 568C1156.6 559.73 1156.72 533.3 1158.6 518.4C1160.48 503.5 1164.03 491.83 1167.5 478.6C1170.97 465.37 1175.98 447.93 1179.4 439C1182.82 430.07 1185.23 428.58 1188 425C1190.77 421.42 1193.63 419.15 1196 417.5C1198.37 415.85 1200.01 414.97 1202.2 415.1C1204.39 415.23 1206.65 416.34 1209.12 418.28C1211.59 420.22 1214.06 422.87 1217.02 426.75C1219.98 430.63 1223.44 436.46 1226.9 441.58C1230.36 446.69 1234.47 452.52 1237.77 457.46C1241.06 462.4 1243.2 465.58 1246.66 471.23C1250.12 476.88 1254.89 485.7 1258.52 491.35C1262.14 497 1265.1 501.59 1268.4 505.12C1271.69 508.64 1275.31 510.59 1278.28 512.53C1281.24 514.47 1283.71 515.62 1286.18 516.76C1288.65 517.91 1290.63 518.71 1293.1 519.41C1295.57 520.12 1298.18 520.88 1301 521C1303.82 521.12 1306.89 520.58 1310.02 520.12C1313.16 519.67 1316.29 519.06 1319.8 518.25C1323.31 517.44 1327.95 516.08 1331.08 515.25C1334.21 514.42 1336.09 513.88 1338.6 513.25C1341.11 512.62 1343.36 512.02 1346.12 511.5C1348.88 510.98 1351.76 510.56 1355.14 510.12C1358.53 509.69 1362.91 509.15 1366.42 508.88C1369.93 508.6 1373.6 508.46 1376.2 508.5C1378.8 508.54 1380.03 508.65 1382 509.11C1383.97 509.57 1386 510.22 1388 511.27C1390 512.31 1392 513.88 1394 515.35C1396 516.83 1398 518.49 1400 520.12C1402 521.75 1404 523.38 1406 525.14C1408 526.9 1410 528.83 1412 530.68C1414 532.53 1416 534.46 1418 536.24C1420 538.02 1422 539.66 1424 541.34C1426 543.02 1428 544.83 1430 546.34C1432 547.85 1434 549.24 1436 550.38C1438 551.52 1440 552.38 1442 553.18C1444 553.97 1445.83 554.55 1448 555.14C1450.17 555.74 1452.67 556.32 1455 556.75C1457.33 557.17 1459.5 557.48 1462 557.69C1464.5 557.89 1467.33 558.08 1470 557.97C1472.67 557.86 1474.9 557.4 1478 557.03C1481.1 556.67 1483.27 556.14 1488.6 555.8C1493.93 555.46 1502.53 555.15 1510 555C1517.47 554.85 1523.83 555.4 1533.4 554.9C1542.97 554.4 1559.63 552.6 1567.4 552C1575.17 551.4 1572.9 551.47 1580 551.3C1587.1 551.13 1599.3 550.95 1610 551C1620.7 551.05 1629.2 551.05 1644.2 551.6C1659.2 552.15 1683.23 553.2 1700 554.3C1716.77 555.4 1728.13 556.92 1744.8 558.2C1761.47 559.48 1782.35 560.88 1800 562C1817.65 563.12 1830.7 564.23 1850.7 564.9C1870.7 565.57 1896.28 565.72 1920 566C1943.72 566.28 1980.83 566.5 1993 566.6" fill="none" stroke="#ff8000" stroke-width="5.8" stroke-linejoin="round" stroke-linecap="round"/>
<path d="M1158.5 568C1158.67 566.33 1158.33 566.27 1159.5 558C1160.67 549.73 1162.85 531.63 1165.5 518.4C1168.15 505.17 1172.08 490.2 1175.4 478.6C1178.72 467 1182.08 457.07 1185.4 448.8C1188.72 440.53 1193.03 433.22 1195.3 429C1197.57 424.78 1197.85 424.83 1199 423.5C1200.15 422.17 1200.51 420.9 1202.2 421C1203.89 421.1 1206.65 422.21 1209.12 424.11C1211.59 426.01 1214.06 428.6 1217.02 432.41C1219.98 436.21 1223.44 441.91 1226.9 446.93C1230.36 451.94 1234.47 457.64 1237.77 462.48C1241.06 467.32 1243.2 470.43 1246.66 475.96C1250.12 481.49 1254.89 490.13 1258.52 495.66C1262.14 501.19 1265.1 505.69 1268.4 509.15C1271.69 512.6 1275.31 514.5 1278.28 516.4C1281.24 518.31 1283.71 519.43 1286.18 520.55C1288.65 521.68 1290.63 522.45 1293.1 523.14C1295.57 523.84 1298.18 524.54 1301 524.7C1303.82 524.86 1306.89 524.43 1310.02 524.13C1313.16 523.83 1316.29 523.43 1319.8 522.9C1323.31 522.36 1327.95 521.47 1331.08 520.93C1334.21 520.38 1336.09 520.03 1338.6 519.62C1341.11 519.21 1343.36 518.81 1346.12 518.47C1348.88 518.13 1351.76 517.85 1355.14 517.57C1358.53 517.28 1362.91 516.92 1366.42 516.75C1369.93 516.57 1373.6 516.46 1376.2 516.5C1378.8 516.54 1380.03 516.62 1382 517.01C1383.97 517.4 1386 517.96 1388 518.84C1390 519.71 1392 521.04 1394 522.28C1396 523.53 1398 524.92 1400 526.3C1402 527.67 1404 529.04 1406 530.52C1408 532.01 1410 533.64 1412 535.2C1414 536.75 1416 538.38 1418 539.87C1420 541.36 1422 542.73 1424 544.15C1426 545.56 1428 547.11 1430 548.37C1432 549.63 1434 550.76 1436 551.71C1438 552.65 1440 553.37 1442 554.02C1444 554.68 1445.83 555.16 1448 555.65C1450.17 556.14 1452.67 556.64 1455 556.99C1457.33 557.34 1459.5 557.61 1462 557.78C1464.5 557.94 1467.33 558.09 1470 557.97C1472.67 557.84 1474.9 557.4 1478 557.03C1481.1 556.67 1483.27 556.14 1488.6 555.8C1493.93 555.46 1502.53 555.15 1510 555C1517.47 554.85 1523.83 555.4 1533.4 554.9C1542.97 554.4 1559.63 552.6 1567.4 552C1575.17 551.4 1572.9 551.47 1580 551.3C1587.1 551.13 1599.3 550.95 1610 551C1620.7 551.05 1629.2 551.05 1644.2 551.6C1659.2 552.15 1683.23 553.2 1700 554.3C1716.77 555.4 1728.13 556.92 1744.8 558.2C1761.47 559.48 1782.35 560.88 1800 562C1817.65 563.12 1830.7 564.23 1850.7 564.9C1870.7 565.57 1896.28 565.72 1920 566C1943.72 566.28 1980.83 566.5 1993 566.6" fill="none" stroke="#8000ff" stroke-width="6.4" stroke-linejoin="round" stroke-linecap="round"/>
<rect x="1830.5" y="67.4" width="145" height="434.8" fill="#fff" stroke="#000" stroke-width="2"/>
<line x1="1836.5" y1="145.4" x2="1893" y2="145.4" stroke="#ff0000" stroke-width="5.5" stroke-linecap="round"/>
<line x1="1836.5" y1="166.88" x2="1893" y2="166.88" stroke="#00ff00" stroke-width="5.5" stroke-linecap="round"/>
<line x1="1836.5" y1="188.36" x2="1893" y2="188.36" stroke="#0000ff" stroke-width="5.5" stroke-linecap="round"/>
<line x1="1836.5" y1="209.84" x2="1893" y2="209.84" stroke="#00ffff" stroke-width="5.5" stroke-linecap="round"/>
<line x1="1836.5" y1="231.32" x2="1893" y2="231.32" stroke="#ff00ff" stroke-width="5.5" stroke-linecap="round"/>
<line x1="1836.5" y1="252.8" x2="1893" y2="252.8" stroke="#ffff00" stroke-width="5.5" stroke-linecap="round"/>
<line x1="1836.5" y1="274.28" x2="1893" y2="274.28" stroke="#808000" stroke-width="5.5" stroke-linecap="round"/>
<line x1="1836.5" y1="295.76" x2="1893" y2="295.76" stroke="#000080" stroke-width="5.5" stroke-linecap="round"/>
<line x1="1836.5" y1="317.24" x2="1893" y2="317.24" stroke="#800080" stroke-width="5.5" stroke-linecap="round"/>
<line x1="1836.5" y1="338.72" x2="1893" y2="338.72" stroke="#800000" stroke-width="5.5" stroke-linecap="round"/>
<line x1="1836.5" y1="360.2" x2="1893" y2="360.2" stroke="#008000" stroke-width="5.5" stroke-linecap="round"/>
<line x1="1836.5" y1="381.68" x2="1893" y2="381.68" stroke="#008080" stroke-width="5.5" stroke-linecap="round"/>
<line x1="1836.5" y1="403.16" x2="1893" y2="403.16" stroke="#0000a0" stroke-width="5.5" stroke-linecap="round"/>
<line x1="1836.5" y1="424.64" x2="1893" y2="424.64" stroke="#ff8000" stroke-width="5.5" stroke-linecap="round"/>
<line x1="1836.5" y1="446.12" x2="1893" y2="446.12" stroke="#8000ff" stroke-width="5.5" stroke-linecap="round"/>
<line x1="1805" y1="136.3" x2="1805" y2="430" stroke="#000" stroke-width="2.6" stroke-linecap="butt"/>
<path d="M1798.3 426.5 L1811.2 426.5 L1805 445.5 Z" fill="#000"/>
<line x1="654" y1="788.8" x2="654" y2="1282.5" stroke="#000" stroke-width="2.6" stroke-linecap="butt"/>
<line x1="653" y1="789.8" x2="1511.9" y2="789.8" stroke="#000" stroke-width="2.2" stroke-linecap="butt"/>
<line x1="1510.4" y1="788.8" x2="1510.4" y2="1287.5" stroke="#000" stroke-width="2.8" stroke-linecap="butt"/>
<line x1="653" y1="1281.5" x2="1511.9" y2="1281.5" stroke="#000" stroke-width="2.6" stroke-linecap="butt"/>
<line x1="639" y1="854.5" x2="654" y2="854.5" stroke="#000" stroke-width="2.4" stroke-linecap="butt"/>
<line x1="639" y1="961.65" x2="654" y2="961.65" stroke="#000" stroke-width="2.4" stroke-linecap="butt"/>
<line x1="639" y1="1068.8" x2="654" y2="1068.8" stroke="#000" stroke-width="2.4" stroke-linecap="butt"/>
<line x1="639" y1="1175.95" x2="654" y2="1175.95" stroke="#000" stroke-width="2.4" stroke-linecap="butt"/>
<line x1="645.7" y1="800.92" x2="654" y2="800.92" stroke="#000" stroke-width="2.4" stroke-linecap="butt"/>
<line x1="645.7" y1="908.07" x2="654" y2="908.07" stroke="#000" stroke-width="2.4" stroke-linecap="butt"/>
<line x1="645.7" y1="1015.22" x2="654" y2="1015.22" stroke="#000" stroke-width="2.4" stroke-linecap="butt"/>
<line x1="645.7" y1="1122.38" x2="654" y2="1122.38" stroke="#000" stroke-width="2.4" stroke-linecap="butt"/>
<line x1="645.7" y1="1229.52" x2="654" y2="1229.52" stroke="#000" stroke-width="2.4" stroke-linecap="butt"/>
<line x1="668.8" y1="1281.5" x2="668.8" y2="1292" stroke="#000" stroke-width="2.6" stroke-linecap="butt"/>
<line x1="821.65" y1="1281.5" x2="821.65" y2="1292" stroke="#000" stroke-width="2.6" stroke-linecap="butt"/>
<line x1="974.5" y1="1281.5" x2="974.5" y2="1292" stroke="#000" stroke-width="2.6" stroke-linecap="butt"/>
<line x1="1127.35" y1="1281.5" x2="1127.35" y2="1292" stroke="#000" stroke-width="2.6" stroke-linecap="butt"/>
<line x1="1280.2" y1="1281.5" x2="1280.2" y2="1292" stroke="#000" stroke-width="2.6" stroke-linecap="butt"/>
<line x1="1433.05" y1="1281.5" x2="1433.05" y2="1292" stroke="#000" stroke-width="2.6" stroke-linecap="butt"/>
<line x1="745.23" y1="1281.5" x2="745.23" y2="1287.5" stroke="#000" stroke-width="2.6" stroke-linecap="butt"/>
<line x1="898.08" y1="1281.5" x2="898.08" y2="1287.5" stroke="#000" stroke-width="2.6" stroke-linecap="butt"/>
<line x1="1050.92" y1="1281.5" x2="1050.92" y2="1287.5" stroke="#000" stroke-width="2.6" stroke-linecap="butt"/>
<line x1="1203.78" y1="1281.5" x2="1203.78" y2="1287.5" stroke="#000" stroke-width="2.6" stroke-linecap="butt"/>
<line x1="1356.62" y1="1281.5" x2="1356.62" y2="1287.5" stroke="#000" stroke-width="2.6" stroke-linecap="butt"/>
<path d="M661 1040 L666 960 L670 895 L674 850 L679.5 829 L684 846 L688 886 L691 905 L686 905 L676 960 L670 1040 Z" fill="#000"/>
<path d="M654.8 1281C654.92 1267.5 655.05 1230.17 655.5 1200C655.95 1169.83 656.67 1128.33 657.5 1100C658.33 1071.67 659.42 1050 660.5 1030C661.58 1010 662.83 998.33 664 980C665.17 961.67 666.25 938.33 667.5 920C668.75 901.67 670.17 883 671.5 870C672.83 857 674.17 848.43 675.5 842C676.83 835.57 678.17 830.4 679.5 831.4C680.83 832.4 682.17 838.55 683.5 848C684.83 857.45 686.25 877.43 687.5 888.1C688.75 898.77 689.68 906.52 691 912C692.32 917.48 694.1 923.47 695.4 921C696.7 918.53 697.62 900.53 698.8 897.2C699.98 893.87 701.13 899.03 702.5 901C703.87 902.97 705.72 906.35 707 909C708.28 911.65 709.06 912.06 710.21 916.88C711.35 921.69 712.5 928.26 713.87 937.89C715.24 947.51 716.85 961.96 718.45 974.65C720.05 987.34 721.96 1001.79 723.49 1014.04C725.01 1026.29 726.01 1034.17 727.61 1048.18C729.21 1062.18 731.43 1084.07 733.11 1098.07C734.79 1112.08 736.16 1123.46 737.69 1132.21C739.21 1140.96 740.89 1145.78 742.27 1150.59C743.64 1155.41 744.78 1158.25 745.93 1161.1C747.07 1163.94 747.99 1165.91 749.14 1167.66C750.28 1169.41 750.19 1173.75 752.8 1171.6C755.41 1169.45 760.63 1163.59 764.8 1154.78C768.97 1145.97 773.13 1134.35 777.8 1118.73C782.47 1103.11 788.63 1077.08 792.8 1061.06C796.97 1045.04 799.47 1034.63 802.8 1022.61C806.13 1010.6 809.13 998.98 812.8 988.97C816.47 978.96 820.3 970.95 824.8 962.54C829.3 954.13 835.13 943.72 839.8 938.51C844.47 933.3 849.77 932.05 852.8 931.3C855.83 930.55 856.3 932.55 858 934.01C859.7 935.47 861.33 936 863 940.04C864.67 944.09 866.33 951.76 868 958.29C869.67 964.83 871.33 969.41 873 979.24C874.67 989.07 876.33 1004.43 878 1017.27C879.67 1030.12 881.33 1043.03 883 1056.3C884.67 1069.57 886.33 1083.74 888 1096.88C889.67 1110.03 891.33 1123.35 893 1135.16C894.67 1146.96 896.33 1157.29 898 1167.73C899.67 1178.17 901.33 1188.3 903 1197.79C904.67 1207.29 906.17 1216.67 908 1224.7C909.83 1232.73 912 1239.95 914 1245.97C916 1251.98 917.67 1256.22 920 1260.79C922.33 1265.36 926.67 1271.3 928 1273.4" fill="none" stroke="#000000" stroke-width="5.2" stroke-linejoin="round" stroke-linecap="round"/>
<path d="M663 1010 L667 950 L671 905 L675.5 875 L679.5 862 L684 878 L688 915 L683 925 L676 960 L670 1010 Z" fill="#ff0000"/>
<path d="M655.2 1281C655.33 1267.5 655.45 1230.17 656 1200C656.55 1169.83 657.5 1130 658.5 1100C659.5 1070 660.75 1045 662 1020C663.25 995 664.67 970 666 950C667.33 930 668.5 913.33 670 900C671.5 886.67 673.42 875.95 675 870C676.58 864.05 678 862.63 679.5 864.3C681 865.97 682.3 869.42 684 880C685.7 890.58 688.18 917.93 689.7 927.8C691.22 937.67 691.72 938.83 693.1 939.2C694.48 939.57 696.3 932.47 698 930C699.7 927.53 701.82 924.07 703.3 924.4C704.78 924.73 705.59 927.34 706.86 931.96C708.14 936.58 709.41 942.89 710.93 952.13C712.46 961.37 714.24 975.24 716.02 987.42C717.81 999.61 719.93 1013.48 721.62 1025.24C723.32 1037 724.42 1044.57 726.21 1058.01C727.99 1071.46 730.45 1092.47 732.31 1105.91C734.18 1119.36 735.71 1130.28 737.4 1138.68C739.1 1147.09 740.97 1151.71 742.49 1156.33C744.02 1160.95 745.29 1163.68 746.57 1166.42C747.84 1169.15 748.86 1171.04 750.13 1172.72C751.4 1174.4 751.57 1178.37 754.2 1176.5C756.83 1174.63 761.86 1169.37 765.94 1161.52C770.01 1153.67 774.09 1143.33 778.65 1129.42C783.21 1115.51 789.25 1092.33 793.32 1078.06C797.39 1063.79 799.84 1054.52 803.1 1043.82C806.36 1033.12 809.29 1022.78 812.88 1013.86C816.47 1004.94 820.21 997.81 824.62 990.32C829.02 982.83 834.72 973.56 839.29 968.92C843.85 964.28 848.88 963.09 852 962.5C855.12 961.91 856.17 963.81 858 965.41C859.83 967 861.33 967.72 863 972.07C864.67 976.43 866.33 984.46 868 991.55C869.67 998.64 871.33 1004.76 873 1014.62C874.67 1024.48 876.33 1038.56 878 1050.71C879.67 1062.86 881.33 1075.08 883 1087.51C884.67 1099.93 886.33 1113.48 888 1125.28C889.67 1137.08 891.33 1147.74 893 1158.3C894.67 1168.86 896.33 1179.27 898 1188.64C899.67 1198 901.33 1206.09 903 1214.5C904.67 1222.91 906.17 1232.57 908 1239.12C909.83 1245.67 912 1249.44 914 1253.8C916 1258.16 917.67 1261.98 920 1265.3C922.33 1268.62 923 1272.29 928 1273.7C933 1275.12 943.28 1273.88 950 1273.8C956.72 1273.72 960.7 1274.12 968.3 1273.2C975.9 1272.28 984.22 1269.12 995.6 1268.3C1006.98 1267.48 1024.3 1268.22 1036.6 1268.3C1048.9 1268.38 1055.73 1268.13 1069.4 1268.8C1083.07 1269.47 1101.3 1270.93 1118.6 1272.3C1135.9 1273.67 1154.98 1275.85 1173.2 1277C1191.42 1278.15 1205.13 1278.65 1227.9 1279.2C1250.67 1279.75 1275.65 1280.12 1309.8 1280.3C1343.95 1280.48 1412.3 1280.3 1432.8 1280.3" fill="none" stroke="#ff0000" stroke-width="4.8" stroke-linejoin="round" stroke-linecap="round"/>
<path d="M667 970C667.83 962.5 670.3 935.62 672 925C673.7 914.38 675.53 907.47 677.2 906.3C678.87 905.13 680.37 911.55 682 918C683.63 924.45 686.17 940.5 687 945" fill="none" stroke="#00ff00" stroke-width="9" stroke-linejoin="round" stroke-linecap="round"/>
<path d="M655.6 1281C655.75 1267.5 655.93 1228.5 656.5 1200C657.07 1171.5 657.92 1138.33 659 1110C660.08 1081.67 661.67 1053.33 663 1030C664.33 1006.67 665.5 987.5 667 970C668.5 952.5 670.3 935.62 672 925C673.7 914.38 675.53 907.47 677.2 906.3C678.87 905.13 680.37 911.55 682 918C683.63 924.45 685.15 937.68 687 945C688.85 952.32 691.27 961.07 693.1 961.9C694.93 962.73 696.3 953.22 698 950C699.7 946.78 701.81 942.64 703.3 942.6C704.79 942.56 705.65 945.4 706.96 949.79C708.27 954.18 709.58 960.17 711.14 968.96C712.71 977.74 714.54 990.92 716.38 1002.5C718.21 1014.08 720.38 1027.26 722.13 1038.44C723.87 1049.62 725 1056.81 726.84 1069.59C728.67 1082.37 731.19 1102.33 733.11 1115.11C735.03 1127.89 736.6 1138.27 738.34 1146.26C740.08 1154.25 742 1158.64 743.57 1163.03C745.14 1167.42 746.45 1170.02 747.75 1172.62C749.06 1175.21 750.11 1177.01 751.42 1178.61C752.72 1180.2 752.97 1183.83 755.6 1182.2C758.23 1180.57 763.15 1175.82 767.17 1168.81C771.18 1161.79 775.2 1152.55 779.7 1140.11C784.2 1127.68 790.14 1106.96 794.16 1094.2C798.18 1081.45 800.59 1073.16 803.8 1063.59C807.01 1054.03 809.91 1044.78 813.44 1036.81C816.97 1028.84 820.67 1022.46 825.01 1015.77C829.35 1009.07 834.97 1000.78 839.47 996.64C843.97 992.49 848.91 991.41 852 990.9C855.09 990.39 856.17 992 858 993.6C859.83 995.2 861.33 996.31 863 1000.47C864.67 1004.63 866.33 1011.74 868 1018.55C869.67 1025.36 871.33 1031.96 873 1041.34C874.67 1050.72 876.33 1063.54 878 1074.85C879.67 1086.16 881.33 1097.63 883 1109.2C884.67 1120.78 886.33 1133.53 888 1144.3C889.67 1155.06 891.33 1164.21 893 1173.79C894.67 1183.37 896.33 1193.22 898 1201.75C899.67 1210.28 901.33 1217.77 903 1224.96C904.67 1232.15 906.17 1239.29 908 1244.89C909.83 1250.49 912 1254.72 914 1258.57C916 1262.41 917.67 1265.46 920 1267.98C922.33 1270.5 923 1272.73 928 1273.7C933 1274.67 943.28 1273.88 950 1273.8C956.72 1273.72 960.7 1274.12 968.3 1273.2C975.9 1272.28 984.22 1269.12 995.6 1268.3C1006.98 1267.48 1024.3 1268.22 1036.6 1268.3C1048.9 1268.38 1055.73 1268.13 1069.4 1268.8C1083.07 1269.47 1101.3 1270.93 1118.6 1272.3C1135.9 1273.67 1154.98 1275.85 1173.2 1277C1191.42 1278.15 1205.13 1278.65 1227.9 1279.2C1250.67 1279.75 1275.65 1280.12 1309.8 1280.3C1343.95 1280.48 1412.3 1280.3 1432.8 1280.3" fill="none" stroke="#00ff00" stroke-width="4.8" stroke-linejoin="round" stroke-linecap="round"/>
<path d="M668 990C668.67 984.17 670.5 963.67 672 955C673.5 946.33 675.33 938.83 677 938C678.67 937.17 680.33 943.83 682 950C683.67 956.17 686.17 970.83 687 975" fill="none" stroke="#0000ff" stroke-width="9" stroke-linejoin="round" stroke-linecap="round"/>
<path d="M656 1281C656.17 1267.5 656.33 1228.5 657 1200C657.67 1171.5 658.83 1136.67 660 1110C661.17 1083.33 662.67 1060 664 1040C665.33 1020 666.67 1004.17 668 990C669.33 975.83 670.5 963.67 672 955C673.5 946.33 675.33 938.83 677 938C678.67 937.17 680.33 943.83 682 950C683.67 956.17 685.33 968.8 687 975C688.67 981.2 690.33 986.2 692 987.2C693.67 988.2 695.3 982.88 697 981C698.7 979.12 700.69 975.69 702.2 975.9C703.71 976.11 704.67 978.37 706.04 982.26C707.41 986.15 708.78 991.45 710.42 999.22C712.06 1006.99 713.98 1018.65 715.9 1028.9C717.82 1039.15 720.1 1050.81 721.93 1060.7C723.75 1070.59 724.94 1076.95 726.86 1088.26C728.78 1099.57 731.43 1117.23 733.44 1128.54C735.45 1139.85 737.09 1149.03 738.92 1156.1C740.74 1163.17 742.75 1167.05 744.4 1170.94C746.04 1174.83 747.41 1177.12 748.78 1179.42C750.15 1181.72 751.25 1183.31 752.62 1184.72C753.99 1186.13 754.37 1189.32 757 1187.9C759.63 1186.48 764.44 1182.32 768.4 1176.19C772.36 1170.05 776.32 1161.97 780.75 1151.09C785.18 1140.22 791.04 1122.1 795 1110.94C798.96 1099.79 801.33 1092.54 804.5 1084.17C807.67 1075.81 810.52 1067.72 814 1060.75C817.48 1053.78 821.12 1048.2 825.4 1042.35C829.67 1036.49 835.22 1029.24 839.65 1025.62C844.08 1021.99 848.94 1021.02 852 1020.6C855.06 1020.18 856.17 1021.5 858 1023.07C859.83 1024.64 861.33 1026.1 863 1030.02C864.67 1033.94 866.33 1040.12 868 1046.57C869.67 1053.03 871.33 1059.93 873 1068.74C874.67 1077.55 876.33 1089.03 878 1099.42C879.67 1109.81 881.33 1120.43 883 1131.06C884.67 1141.69 886.33 1153.54 888 1163.21C889.67 1172.88 891.33 1180.69 893 1189.11C894.67 1197.53 896.33 1206.07 898 1213.72C899.67 1221.37 901.33 1228.89 903 1235.01C904.67 1241.14 906.17 1245.82 908 1250.46C909.83 1255.1 912 1259.5 914 1262.83C916 1266.16 917.67 1268.63 920 1270.45C922.33 1272.26 923 1273.14 928 1273.7C933 1274.26 943.28 1273.88 950 1273.8C956.72 1273.72 960.7 1274.12 968.3 1273.2C975.9 1272.28 984.22 1269.12 995.6 1268.3C1006.98 1267.48 1024.3 1268.22 1036.6 1268.3C1048.9 1268.38 1055.73 1268.13 1069.4 1268.8C1083.07 1269.47 1101.3 1270.93 1118.6 1272.3C1135.9 1273.67 1154.98 1275.85 1173.2 1277C1191.42 1278.15 1205.13 1278.65 1227.9 1279.2C1250.67 1279.75 1275.65 1280.12 1309.8 1280.3C1343.95 1280.48 1412.3 1280.3 1432.8 1280.3" fill="none" stroke="#0000ff" stroke-width="4.8" stroke-linejoin="round" stroke-linecap="round"/>
<path d="M670 1000C670.67 996 672.6 981.33 674 976C675.4 970.67 676.9 967.33 678.4 968C679.9 968.67 681.4 974.67 683 980C684.6 985.33 687.17 996.67 688 1000" fill="none" stroke="#00ffff" stroke-width="8.5" stroke-linejoin="round" stroke-linecap="round"/>
<path d="M656.4 1281C656.58 1267.5 656.82 1226.83 657.5 1200C658.18 1173.17 659.25 1145 660.5 1120C661.75 1095 663.42 1070 665 1050C666.58 1030 668.5 1012.33 670 1000C671.5 987.67 672.6 981.33 674 976C675.4 970.67 676.9 967.33 678.4 968C679.9 968.67 681.4 974.67 683 980C684.6 985.33 686.32 995.2 688 1000C689.68 1004.8 691.43 1008.3 693.1 1008.8C694.77 1009.3 696.3 1004.7 698 1003C699.7 1001.3 701.77 998.37 703.3 998.6C704.83 998.83 705.78 1000.86 707.16 1004.4C708.53 1007.95 709.91 1012.79 711.56 1019.88C713.22 1026.98 715.15 1037.62 717.07 1046.97C719 1056.33 721.3 1066.97 723.14 1076C724.97 1085.03 726.17 1090.84 728.09 1101.15C730.02 1111.47 732.69 1127.6 734.71 1137.92C736.73 1148.24 738.38 1156.62 740.22 1163.07C742.05 1169.52 744.07 1173.07 745.73 1176.62C747.38 1180.17 748.76 1182.26 750.13 1184.36C751.51 1186.46 752.61 1187.91 753.99 1189.2C755.37 1190.49 755.79 1193.27 758.4 1192.1C761.01 1190.93 765.73 1187.38 769.63 1182.18C773.53 1176.99 777.43 1170.14 781.8 1160.93C786.17 1151.72 791.94 1136.36 795.84 1126.92C799.74 1117.47 802.08 1111.33 805.2 1104.25C808.32 1097.16 811.13 1090.31 814.56 1084.41C817.99 1078.5 821.58 1073.78 825.79 1068.82C830 1063.86 835.46 1057.72 839.83 1054.65C844.2 1051.58 848.97 1050.73 852 1050.4C855.03 1050.07 856.17 1051.18 858 1052.69C859.83 1054.21 861.33 1055.87 863 1059.5C864.67 1063.12 866.33 1068.42 868 1074.44C869.67 1080.46 871.33 1087.49 873 1095.64C874.67 1103.78 876.33 1113.93 878 1123.34C879.67 1132.75 881.33 1142.6 883 1152.08C884.67 1161.56 886.33 1171.63 888 1180.2C889.67 1188.77 891.33 1196.07 893 1203.51C894.67 1210.95 896.33 1218.07 898 1224.84C899.67 1231.61 901.33 1238.99 903 1244.11C904.67 1249.22 906.17 1251.94 908 1255.52C909.83 1259.11 912 1262.78 914 1265.62C916 1268.46 917.67 1271.2 920 1272.55C922.33 1273.9 923 1273.49 928 1273.7C933 1273.91 943.28 1273.88 950 1273.8C956.72 1273.72 960.7 1274.12 968.3 1273.2C975.9 1272.28 984.22 1269.12 995.6 1268.3C1006.98 1267.48 1024.3 1268.22 1036.6 1268.3C1048.9 1268.38 1055.73 1268.13 1069.4 1268.8C1083.07 1269.47 1101.3 1270.93 1118.6 1272.3C1135.9 1273.67 1154.98 1275.85 1173.2 1277C1191.42 1278.15 1205.13 1278.65 1227.9 1279.2C1250.67 1279.75 1275.65 1280.12 1309.8 1280.3C1343.95 1280.48 1412.3 1280.3 1432.8 1280.3" fill="none" stroke="#00ffff" stroke-width="4.8" stroke-linejoin="round" stroke-linecap="round"/>
<path d="M671 1030C671.67 1027.33 673.77 1017.33 675 1014C676.23 1010.67 677.07 1009 678.4 1010C679.73 1011 681.12 1015.28 683 1020C684.88 1024.72 688.58 1035.25 689.7 1038.3" fill="none" stroke="#ff00ff" stroke-width="7" stroke-linejoin="round" stroke-linecap="round"/>
<path d="M656.8 1281C657 1267.5 657.3 1225.17 658 1200C658.7 1174.83 659.67 1151.67 661 1130C662.33 1108.33 664.33 1086.67 666 1070C667.67 1053.33 669.5 1039.33 671 1030C672.5 1020.67 673.77 1017.33 675 1014C676.23 1010.67 677.07 1009 678.4 1010C679.73 1011 681.12 1015.28 683 1020C684.88 1024.72 687.53 1036.63 689.7 1038.3C691.87 1039.97 693.92 1032.83 696 1030C698.08 1027.17 700.48 1021.87 702.2 1021.3C703.92 1020.73 704.86 1023.36 706.34 1026.6C707.81 1029.83 709.29 1034.24 711.07 1040.71C712.84 1047.19 714.91 1056.89 716.98 1065.42C719.04 1073.96 721.51 1083.66 723.48 1091.9C725.45 1100.14 726.73 1105.43 728.79 1114.85C730.86 1124.26 733.72 1138.97 735.89 1148.38C738.05 1157.79 739.83 1165.44 741.8 1171.33C743.77 1177.21 745.93 1180.44 747.71 1183.68C749.48 1186.92 750.96 1188.83 752.43 1190.74C753.91 1192.65 755.09 1193.98 756.57 1195.15C758.05 1196.33 758.7 1198.76 761.3 1197.8C763.9 1196.84 768.4 1193.79 772.18 1189.37C775.96 1184.96 779.74 1179.14 783.97 1171.31C788.21 1163.49 793.8 1150.44 797.58 1142.42C801.36 1134.39 803.63 1129.17 806.65 1123.15C809.67 1117.13 812.39 1111.31 815.72 1106.3C819.05 1101.28 822.52 1097.27 826.6 1093.05C830.69 1088.84 835.98 1083.62 840.21 1081.01C844.44 1078.4 849.03 1077.65 852 1077.4C854.97 1077.15 856.17 1078.09 858 1079.54C859.83 1080.98 861.33 1082.73 863 1086.05C864.67 1089.37 866.33 1093.89 868 1099.46C869.67 1105.03 871.33 1111.97 873 1119.45C874.67 1126.93 876.33 1135.85 878 1144.32C879.67 1152.79 881.33 1161.87 883 1170.27C884.67 1178.66 886.33 1187.14 888 1194.7C889.67 1202.27 891.33 1209.09 893 1215.65C894.67 1222.22 896.33 1228.18 898 1234.09C899.67 1239.99 901.33 1246.82 903 1251.08C904.67 1255.34 906.17 1256.84 908 1259.63C909.83 1262.42 912 1265.58 914 1267.83C916 1270.08 917.67 1272.13 920 1273.11C922.33 1274.09 923 1273.59 928 1273.7C933 1273.82 943.28 1273.88 950 1273.8C956.72 1273.72 960.7 1274.12 968.3 1273.2C975.9 1272.28 984.22 1269.12 995.6 1268.3C1006.98 1267.48 1024.3 1268.22 1036.6 1268.3C1048.9 1268.38 1055.73 1268.13 1069.4 1268.8C1083.07 1269.47 1101.3 1270.93 1118.6 1272.3C1135.9 1273.67 1154.98 1275.85 1173.2 1277C1191.42 1278.15 1205.13 1278.65 1227.9 1279.2C1250.67 1279.75 1275.65 1280.12 1309.8 1280.3C1343.95 1280.48 1412.3 1280.3 1432.8 1280.3" fill="none" stroke="#ff00ff" stroke-width="4.8" stroke-linejoin="round" stroke-linecap="round"/>
<path d="M657.2 1281C657.42 1267.5 657.7 1223.5 658.5 1200C659.3 1176.5 660.58 1158.33 662 1140C663.42 1121.67 665.33 1103.67 667 1090C668.67 1076.33 670.1 1065.28 672 1058C673.9 1050.72 676.4 1046.63 678.4 1046.3C680.4 1045.97 682.12 1053.35 684 1056C685.88 1058.65 687.7 1062.87 689.7 1062.2C691.7 1061.53 693.92 1054.47 696 1052C698.08 1049.53 700.43 1047.39 702.2 1047.4C703.97 1047.41 705.05 1049.22 706.63 1052.08C708.21 1054.94 709.8 1058.85 711.7 1064.57C713.59 1070.29 715.81 1078.88 718.03 1086.43C720.24 1093.97 722.88 1102.56 724.99 1109.84C727.1 1117.12 728.47 1121.81 730.69 1130.13C732.9 1138.46 735.96 1151.47 738.28 1159.79C740.6 1168.12 742.5 1174.88 744.61 1180.09C746.72 1185.29 749.04 1188.15 750.94 1191.01C752.84 1193.87 754.42 1195.56 756 1197.26C757.59 1198.95 758.85 1200.12 760.44 1201.16C762.02 1202.2 762.93 1204.25 765.5 1203.5C768.07 1202.75 772.28 1200.25 775.88 1196.67C779.48 1193.1 783.09 1188.39 787.12 1182.05C791.16 1175.71 796.5 1165.15 800.1 1158.65C803.7 1152.15 805.87 1147.92 808.75 1143.05C811.63 1138.17 814.23 1133.46 817.4 1129.4C820.57 1125.34 823.89 1122.09 827.78 1118.67C831.67 1115.26 836.72 1111.04 840.75 1108.92C844.79 1106.81 849.13 1106.16 852 1106C854.87 1105.84 856.17 1106.61 858 1107.94C859.83 1109.27 861.33 1111.04 863 1114C864.67 1116.96 866.33 1120.7 868 1125.71C869.67 1130.72 871.33 1137.37 873 1144.06C874.67 1150.75 876.33 1158.42 878 1165.84C879.67 1173.26 881.33 1181.36 883 1188.58C884.67 1195.8 886.33 1202.69 888 1209.18C889.67 1215.67 891.33 1221.88 893 1227.51C894.67 1233.14 896.33 1238.23 898 1242.96C899.67 1247.69 901.33 1252.5 903 1255.91C904.67 1259.33 906.17 1261.13 908 1263.44C909.83 1265.76 912 1268.21 914 1269.82C916 1271.43 917.67 1272.47 920 1273.11C922.33 1273.76 923 1273.59 928 1273.7C933 1273.82 943.28 1273.88 950 1273.8C956.72 1273.72 960.7 1274.12 968.3 1273.2C975.9 1272.28 984.22 1269.12 995.6 1268.3C1006.98 1267.48 1024.3 1268.22 1036.6 1268.3C1048.9 1268.38 1055.73 1268.13 1069.4 1268.8C1083.07 1269.47 1101.3 1270.93 1118.6 1272.3C1135.9 1273.67 1154.98 1275.85 1173.2 1277C1191.42 1278.15 1205.13 1278.65 1227.9 1279.2C1250.67 1279.75 1275.65 1280.12 1309.8 1280.3C1343.95 1280.48 1412.3 1280.3 1432.8 1280.3" fill="none" stroke="#ffff00" stroke-width="4.8" stroke-linejoin="round" stroke-linecap="round"/>
<path d="M657.6 1281C657.83 1269.17 658.1 1231.83 659 1210C659.9 1188.17 661.5 1167.5 663 1150C664.5 1132.5 666.5 1115.83 668 1105C669.5 1094.17 670.47 1089.87 672 1085C673.53 1080.13 675.37 1076.47 677.2 1075.8C679.03 1075.13 680.92 1079.68 683 1081C685.08 1082.32 687.37 1085.2 689.7 1083.7C692.03 1082.2 694.53 1075.02 697 1072C699.47 1068.98 702.46 1065.96 704.5 1065.6C706.54 1065.24 707.56 1067.26 709.27 1069.86C710.97 1072.47 712.67 1076.02 714.72 1081.23C716.76 1086.44 719.14 1094.26 721.52 1101.12C723.91 1107.99 726.75 1115.81 729.02 1122.44C731.29 1129.07 732.76 1133.33 735.14 1140.91C737.53 1148.49 740.82 1160.33 743.32 1167.91C745.81 1175.49 747.86 1181.65 750.13 1186.38C752.4 1191.12 754.89 1193.73 756.94 1196.33C758.98 1198.94 760.68 1200.48 762.38 1202.02C764.09 1203.56 765.45 1204.62 767.15 1205.57C768.85 1206.52 770.1 1208.25 772.6 1207.7C775.1 1207.15 778.82 1205.12 782.13 1202.29C785.44 1199.45 788.74 1195.72 792.45 1190.69C796.16 1185.67 801.05 1177.3 804.36 1172.14C807.67 1166.99 809.65 1163.64 812.3 1159.77C814.95 1155.91 817.33 1152.17 820.24 1148.95C823.15 1145.73 826.2 1143.15 829.77 1140.45C833.34 1137.74 837.97 1134.39 841.68 1132.72C845.38 1131.04 849.28 1130.5 852 1130.4C854.72 1130.3 856.17 1130.93 858 1132.14C859.83 1133.36 861.33 1135.07 863 1137.69C864.67 1140.31 866.33 1143.41 868 1147.88C869.67 1152.35 871.33 1158.56 873 1164.51C874.67 1170.46 876.33 1177.09 878 1183.57C879.67 1190.05 881.33 1197.18 883 1203.37C884.67 1209.57 886.33 1215.23 888 1220.76C889.67 1226.29 891.33 1231.73 893 1236.56C894.67 1241.39 896.33 1245.88 898 1249.72C899.67 1253.57 901.33 1256.86 903 1259.61C904.67 1262.36 906.17 1264.29 908 1266.23C909.83 1268.16 912 1270.07 914 1271.22C916 1272.37 917.67 1272.7 920 1273.11C922.33 1273.53 923 1273.59 928 1273.7C933 1273.82 943.28 1273.88 950 1273.8C956.72 1273.72 960.7 1274.12 968.3 1273.2C975.9 1272.28 984.22 1269.12 995.6 1268.3C1006.98 1267.48 1024.3 1268.22 1036.6 1268.3C1048.9 1268.38 1055.73 1268.13 1069.4 1268.8C1083.07 1269.47 1101.3 1270.93 1118.6 1272.3C1135.9 1273.67 1154.98 1275.85 1173.2 1277C1191.42 1278.15 1205.13 1278.65 1227.9 1279.2C1250.67 1279.75 1275.65 1280.12 1309.8 1280.3C1343.95 1280.48 1412.3 1280.3 1432.8 1280.3" fill="none" stroke="#808000" stroke-width="4.8" stroke-linejoin="round" stroke-linecap="round"/>
<path d="M658 1281C658.25 1270.83 658.5 1240.17 659.5 1220C660.5 1199.83 662.42 1177 664 1160C665.58 1143 667.5 1128 669 1118C670.5 1108 671.63 1103.63 673 1100C674.37 1096.37 675.37 1096.08 677.2 1096.2C679.03 1096.32 681.2 1102.07 684 1100.7C686.8 1099.33 690.58 1091.58 694 1088C697.42 1084.42 701.92 1080 704.5 1079.2C707.08 1078.4 707.7 1080.77 709.47 1083.23C711.25 1085.69 713.02 1089.04 715.15 1093.96C717.28 1098.88 719.76 1106.26 722.25 1112.75C724.74 1119.24 727.69 1126.62 730.06 1132.88C732.43 1139.14 733.97 1143.17 736.45 1150.33C738.94 1157.48 742.37 1168.67 744.97 1175.82C747.57 1182.98 749.7 1188.8 752.07 1193.27C754.44 1197.74 757.04 1200.2 759.17 1202.66C761.3 1205.12 763.08 1206.58 764.85 1208.03C766.62 1209.49 768.05 1210.49 769.82 1211.39C771.6 1212.28 773.02 1213.82 775.5 1213.4C777.98 1212.98 781.49 1211.25 784.68 1208.88C787.87 1206.52 791.05 1203.4 794.62 1199.21C798.2 1195.02 802.91 1188.03 806.1 1183.73C809.29 1179.43 811.2 1176.63 813.75 1173.41C816.3 1170.19 818.6 1167.07 821.4 1164.38C824.2 1161.69 827.14 1159.54 830.58 1157.29C834.02 1155.03 838.48 1152.23 842.05 1150.84C845.62 1149.44 849.34 1148.96 852 1148.9C854.66 1148.84 856.17 1149.36 858 1150.47C859.83 1151.58 861.33 1153.21 863 1155.55C864.67 1157.9 866.33 1160.53 868 1164.55C869.67 1168.57 871.33 1174.33 873 1179.67C874.67 1185 876.33 1190.82 878 1196.55C879.67 1202.28 881.33 1208.63 883 1214.05C884.67 1219.46 886.33 1224.27 888 1229.04C889.67 1233.81 891.33 1238.46 893 1242.67C894.67 1246.89 896.33 1251.08 898 1254.33C899.67 1257.57 901.33 1259.91 903 1262.14C904.67 1264.36 906.17 1266.04 908 1267.7C909.83 1269.35 912 1271.17 914 1272.08C916 1272.98 917.67 1272.84 920 1273.11C922.33 1273.38 923 1273.59 928 1273.7C933 1273.82 943.28 1273.88 950 1273.8C956.72 1273.72 960.7 1274.12 968.3 1273.2C975.9 1272.28 984.22 1269.12 995.6 1268.3C1006.98 1267.48 1024.3 1268.22 1036.6 1268.3C1048.9 1268.38 1055.73 1268.13 1069.4 1268.8C1083.07 1269.47 1101.3 1270.93 1118.6 1272.3C1135.9 1273.67 1154.98 1275.85 1173.2 1277C1191.42 1278.15 1205.13 1278.65 1227.9 1279.2C1250.67 1279.75 1275.65 1280.12 1309.8 1280.3C1343.95 1280.48 1412.3 1280.3 1432.8 1280.3" fill="none" stroke="#000080" stroke-width="4.8" stroke-linejoin="round" stroke-linecap="round"/>
<path d="M658.5 1281C658.75 1271.67 658.92 1243.5 660 1225C661.08 1206.5 663.17 1185.83 665 1170C666.83 1154.17 668.83 1140 671 1130C673.17 1120 675.17 1115 678 1110C680.83 1105 684.83 1102.5 688 1100C691.17 1097.5 694.25 1096.2 697 1095C699.75 1093.8 702.37 1092.54 704.5 1092.8C706.63 1093.06 707.88 1094.26 709.76 1096.55C711.64 1098.84 713.52 1101.96 715.78 1106.54C718.04 1111.12 720.67 1117.99 723.3 1124.03C725.93 1130.06 729.07 1136.93 731.57 1142.76C734.08 1148.59 735.71 1152.34 738.34 1159C740.97 1165.66 744.61 1176.07 747.36 1182.73C750.12 1189.39 752.38 1194.8 754.88 1198.97C757.39 1203.13 760.15 1205.42 762.4 1207.71C764.66 1210 766.54 1211.35 768.42 1212.7C770.3 1214.06 771.8 1214.99 773.68 1215.83C775.56 1216.66 777.25 1218.02 779.7 1217.7C782.15 1217.38 785.36 1215.9 788.38 1213.93C791.39 1211.95 794.4 1209.35 797.78 1205.84C801.15 1202.34 805.61 1196.5 808.62 1192.91C811.63 1189.31 813.44 1186.98 815.85 1184.28C818.26 1181.59 820.43 1178.98 823.08 1176.74C825.73 1174.49 828.5 1172.69 831.76 1170.81C835.01 1168.92 839.23 1166.58 842.6 1165.42C845.98 1164.25 849.43 1163.83 852 1163.8C854.57 1163.77 856.17 1164.21 858 1165.22C859.83 1166.24 861.33 1167.77 863 1169.88C864.67 1171.98 866.33 1174.25 868 1177.88C869.67 1181.5 871.33 1186.84 873 1191.64C874.67 1196.45 876.33 1201.6 878 1206.71C879.67 1211.82 881.33 1217.51 883 1222.29C884.67 1227.07 886.33 1231.21 888 1235.37C889.67 1239.54 891.33 1243.56 893 1247.28C894.67 1251 896.33 1254.9 898 1257.69C899.67 1260.47 901.33 1262.15 903 1263.98C904.67 1265.82 906.17 1267.24 908 1268.68C909.83 1270.12 912 1271.89 914 1272.63C916 1273.37 917.67 1272.93 920 1273.11C922.33 1273.29 923 1273.59 928 1273.7C933 1273.82 943.28 1273.88 950 1273.8C956.72 1273.72 960.7 1274.12 968.3 1273.2C975.9 1272.28 984.22 1269.12 995.6 1268.3C1006.98 1267.48 1024.3 1268.22 1036.6 1268.3C1048.9 1268.38 1055.73 1268.13 1069.4 1268.8C1083.07 1269.47 1101.3 1270.93 1118.6 1272.3C1135.9 1273.67 1154.98 1275.85 1173.2 1277C1191.42 1278.15 1205.13 1278.65 1227.9 1279.2C1250.67 1279.75 1275.65 1280.12 1309.8 1280.3C1343.95 1280.48 1412.3 1280.3 1432.8 1280.3" fill="none" stroke="#800080" stroke-width="4.8" stroke-linejoin="round" stroke-linecap="round"/>
<path d="M659 1281C659.25 1272.5 659.33 1247.17 660.5 1230C661.67 1212.83 664.08 1193 666 1178C667.92 1163 669.67 1150 672 1140C674.33 1130 677 1123.5 680 1118C683 1112.5 687 1109.5 690 1107C693 1104.5 695.45 1103.95 698 1103C700.55 1102.05 703.18 1100.99 705.3 1101.3C707.42 1101.61 708.78 1102.69 710.71 1104.88C712.64 1107.06 714.58 1110.04 716.89 1114.41C719.21 1118.78 721.92 1125.34 724.62 1131.1C727.33 1136.86 730.55 1143.42 733.13 1148.98C735.7 1154.54 737.38 1158.12 740.09 1164.48C742.79 1170.83 746.53 1180.77 749.36 1187.12C752.2 1193.48 754.51 1198.65 757.09 1202.62C759.67 1206.59 762.5 1208.78 764.82 1210.96C767.14 1213.15 769.07 1214.44 771 1215.73C772.94 1217.02 774.48 1217.92 776.42 1218.71C778.35 1219.51 780.18 1220.74 782.6 1220.5C785.02 1220.26 788.04 1218.96 790.93 1217.27C793.82 1215.58 796.71 1213.35 799.95 1210.36C803.19 1207.36 807.47 1202.37 810.36 1199.29C813.25 1196.22 814.99 1194.22 817.3 1191.92C819.61 1189.61 821.7 1187.38 824.24 1185.46C826.78 1183.54 829.44 1182.01 832.57 1180.39C835.69 1178.78 839.74 1176.78 842.98 1175.78C846.22 1174.78 849.5 1174.41 852 1174.4C854.5 1174.39 856.17 1174.77 858 1175.71C859.83 1176.65 861.33 1178.1 863 1180.03C864.67 1181.96 866.33 1183.97 868 1187.3C869.67 1190.64 871.33 1195.62 873 1200.03C874.67 1204.44 876.33 1209.11 878 1213.77C879.67 1218.42 881.33 1223.63 883 1227.95C884.67 1232.27 886.33 1235.95 888 1239.69C889.67 1243.43 891.33 1247.02 893 1250.39C894.67 1253.75 896.33 1257.41 898 1259.88C899.67 1262.35 901.33 1263.62 903 1265.2C904.67 1266.77 906.17 1268.07 908 1269.31C909.83 1270.55 912 1271.99 914 1272.63C916 1273.26 917.67 1272.93 920 1273.11C922.33 1273.29 923 1273.59 928 1273.7C933 1273.82 943.28 1273.88 950 1273.8C956.72 1273.72 960.7 1274.12 968.3 1273.2C975.9 1272.28 984.22 1269.12 995.6 1268.3C1006.98 1267.48 1024.3 1268.22 1036.6 1268.3C1048.9 1268.38 1055.73 1268.13 1069.4 1268.8C1083.07 1269.47 1101.3 1270.93 1118.6 1272.3C1135.9 1273.67 1154.98 1275.85 1173.2 1277C1191.42 1278.15 1205.13 1278.65 1227.9 1279.2C1250.67 1279.75 1275.65 1280.12 1309.8 1280.3C1343.95 1280.48 1412.3 1280.3 1432.8 1280.3" fill="none" stroke="#800000" stroke-width="4.8" stroke-linejoin="round" stroke-linecap="round"/>
<path d="M659.5 1281C659.75 1273.33 659.75 1251 661 1235C662.25 1219 665 1199.17 667 1185C669 1170.83 670.67 1159.67 673 1150C675.33 1140.33 678 1133 681 1127C684 1121 688 1116.83 691 1114C694 1111.17 696.62 1110.98 699 1110C701.38 1109.02 703.32 1107.83 705.3 1108.1C707.28 1108.37 708.9 1109.46 710.91 1111.6C712.91 1113.74 714.91 1116.66 717.31 1120.94C719.72 1125.22 722.52 1131.63 725.32 1137.27C728.13 1142.92 731.47 1149.33 734.14 1154.78C736.81 1160.23 738.54 1163.73 741.34 1169.95C744.15 1176.17 748.02 1185.9 750.96 1192.12C753.89 1198.35 756.3 1203.4 758.97 1207.29C761.64 1211.18 764.57 1213.32 766.98 1215.46C769.38 1217.6 771.38 1218.87 773.38 1220.13C775.39 1221.4 776.99 1222.27 778.99 1223.05C780.99 1223.83 783 1224.98 785.4 1224.8C787.8 1224.62 790.62 1223.45 793.39 1221.96C796.17 1220.48 798.94 1218.52 802.05 1215.89C805.16 1213.26 809.26 1208.87 812.04 1206.17C814.81 1203.47 816.48 1201.72 818.7 1199.69C820.92 1197.66 822.92 1195.71 825.36 1194.02C827.8 1192.33 830.36 1190.98 833.35 1189.57C836.35 1188.15 840.23 1186.39 843.34 1185.51C846.45 1184.64 849.56 1184.3 852 1184.3C854.44 1184.3 856.17 1184.64 858 1185.5C859.83 1186.36 861.33 1187.72 863 1189.48C864.67 1191.24 866.33 1193.02 868 1196.07C869.67 1199.11 871.33 1203.73 873 1207.76C874.67 1211.79 876.33 1216.01 878 1220.23C879.67 1224.44 881.33 1229.18 883 1233.08C884.67 1236.97 886.33 1240.23 888 1243.58C889.67 1246.92 891.33 1250.12 893 1253.15C894.67 1256.19 896.33 1259.59 898 1261.78C899.67 1263.96 901.33 1264.9 903 1266.25C904.67 1267.59 906.17 1268.78 908 1269.84C909.83 1270.91 912 1272.08 914 1272.63C916 1273.17 917.67 1272.93 920 1273.11C922.33 1273.29 923 1273.59 928 1273.7C933 1273.82 943.28 1273.88 950 1273.8C956.72 1273.72 960.7 1274.12 968.3 1273.2C975.9 1272.28 984.22 1269.12 995.6 1268.3C1006.98 1267.48 1024.3 1268.22 1036.6 1268.3C1048.9 1268.38 1055.73 1268.13 1069.4 1268.8C1083.07 1269.47 1101.3 1270.93 1118.6 1272.3C1135.9 1273.67 1154.98 1275.85 1173.2 1277C1191.42 1278.15 1205.13 1278.65 1227.9 1279.2C1250.67 1279.75 1275.65 1280.12 1309.8 1280.3C1343.95 1280.48 1412.3 1280.3 1432.8 1280.3" fill="none" stroke="#008000" stroke-width="4.8" stroke-linejoin="round" stroke-linecap="round"/>
<path d="M660 1281C660.33 1273.83 660.67 1252.83 662 1238C663.33 1223.17 665.83 1205.33 668 1192C670.17 1178.67 672.5 1167.33 675 1158C677.5 1148.67 680.17 1141.83 683 1136C685.83 1130.17 689.33 1125.83 692 1123C694.67 1120.17 696.78 1119.92 699 1119C701.22 1118.08 703.3 1117.2 705.3 1117.5C707.3 1117.8 708.97 1118.79 711 1120.82C713.04 1122.86 715.08 1125.63 717.52 1129.69C719.97 1133.75 722.82 1139.84 725.67 1145.2C728.53 1150.56 731.92 1156.65 734.64 1161.82C737.36 1166.99 739.12 1170.31 741.97 1176.22C744.83 1182.13 748.77 1191.37 751.75 1197.28C754.74 1203.19 757.19 1207.99 759.9 1211.68C762.62 1215.37 765.61 1217.4 768.05 1219.44C770.5 1221.47 772.54 1222.67 774.57 1223.87C776.61 1225.07 778.24 1225.9 780.28 1226.64C782.32 1227.38 784.41 1228.41 786.8 1228.3C789.19 1228.19 791.91 1227.19 794.62 1225.97C797.34 1224.75 800.06 1223.14 803.1 1220.97C806.14 1218.81 810.16 1215.2 812.88 1212.98C815.6 1210.76 817.23 1209.32 819.4 1207.65C821.57 1205.99 823.53 1204.38 825.92 1202.99C828.31 1201.6 830.81 1200.49 833.74 1199.33C836.68 1198.16 840.48 1196.72 843.52 1196C846.57 1195.28 849.59 1194.99 852 1195C854.41 1195.01 856.17 1195.3 858 1196.08C859.83 1196.85 861.33 1198.09 863 1199.66C864.67 1201.23 866.33 1202.77 868 1205.49C869.67 1208.21 871.33 1212.41 873 1216C874.67 1219.6 876.33 1223.32 878 1227.06C879.67 1230.79 881.33 1234.98 883 1238.41C884.67 1241.83 886.33 1244.69 888 1247.62C889.67 1250.55 891.33 1253.36 893 1255.99C894.67 1258.62 896.33 1261.51 898 1263.39C899.67 1265.27 901.33 1266.13 903 1267.29C904.67 1268.45 906.17 1269.48 908 1270.37C909.83 1271.25 912 1272.17 914 1272.63C916 1273.09 917.67 1272.93 920 1273.11C922.33 1273.29 923 1273.59 928 1273.7C933 1273.82 943.28 1273.88 950 1273.8C956.72 1273.72 960.7 1274.12 968.3 1273.2C975.9 1272.28 984.22 1269.12 995.6 1268.3C1006.98 1267.48 1024.3 1268.22 1036.6 1268.3C1048.9 1268.38 1055.73 1268.13 1069.4 1268.8C1083.07 1269.47 1101.3 1270.93 1118.6 1272.3C1135.9 1273.67 1154.98 1275.85 1173.2 1277C1191.42 1278.15 1205.13 1278.65 1227.9 1279.2C1250.67 1279.75 1275.65 1280.12 1309.8 1280.3C1343.95 1280.48 1412.3 1280.3 1432.8 1280.3" fill="none" stroke="#008080" stroke-width="4.8" stroke-linejoin="round" stroke-linecap="round"/>
<path d="M660.8 1281C661.17 1274.17 661.63 1253.83 663 1240C664.37 1226.17 666.83 1210.5 669 1198C671.17 1185.5 674.83 1170.5 676 1165" fill="none" stroke="#0000a0" stroke-width="6" stroke-linejoin="round" stroke-linecap="round"/>
<path d="M660.8 1281C661.17 1274.17 661.63 1253.83 663 1240C664.37 1226.17 666.83 1210.5 669 1198C671.17 1185.5 673.5 1174.17 676 1165C678.5 1155.83 681.17 1148.83 684 1143C686.83 1137.17 690.33 1132.83 693 1130C695.67 1127.17 697.95 1126.95 700 1126C702.05 1125.05 703.45 1124.05 705.3 1124.3C707.15 1124.55 709.03 1125.55 711.1 1127.52C713.18 1129.5 715.25 1132.18 717.74 1136.12C720.22 1140.07 723.12 1145.98 726.02 1151.17C728.93 1156.37 732.38 1162.28 735.14 1167.3C737.91 1172.32 739.7 1175.54 742.61 1181.27C745.51 1187.01 749.51 1195.97 752.55 1201.7C755.59 1207.43 758.08 1212.09 760.84 1215.67C763.61 1219.26 766.65 1221.23 769.13 1223.2C771.62 1225.17 773.69 1226.34 775.76 1227.5C777.84 1228.66 779.5 1229.47 781.57 1230.19C783.64 1230.9 785.82 1231.85 788.2 1231.8C790.58 1231.75 793.2 1230.88 795.86 1229.87C798.51 1228.86 801.17 1227.52 804.15 1225.73C807.13 1223.93 811.06 1220.94 813.72 1219.1C816.38 1217.26 817.97 1216.07 820.1 1214.69C822.23 1213.31 824.14 1211.97 826.48 1210.82C828.82 1209.67 831.26 1208.75 834.14 1207.79C837.01 1206.82 840.73 1205.63 843.71 1205.03C846.68 1204.43 849.62 1204.18 852 1204.2C854.38 1204.22 856.17 1204.46 858 1205.16C859.83 1205.86 861.33 1206.99 863 1208.39C864.67 1209.79 866.33 1211.12 868 1213.55C869.67 1215.98 871.33 1219.78 873 1222.99C874.67 1226.2 876.33 1229.51 878 1232.81C879.67 1236.1 881.33 1239.74 883 1242.77C884.67 1245.79 886.33 1248.36 888 1250.95C889.67 1253.54 891.33 1256.02 893 1258.3C894.67 1260.57 896.33 1262.98 898 1264.61C899.67 1266.25 901.33 1267.08 903 1268.11C904.67 1269.13 906.17 1270.01 908 1270.76C909.83 1271.52 912 1272.24 914 1272.63C916 1273.02 917.67 1272.93 920 1273.11C922.33 1273.29 923 1273.59 928 1273.7C933 1273.82 943.28 1273.88 950 1273.8C956.72 1273.72 960.7 1274.12 968.3 1273.2C975.9 1272.28 984.22 1269.12 995.6 1268.3C1006.98 1267.48 1024.3 1268.22 1036.6 1268.3C1048.9 1268.38 1055.73 1268.13 1069.4 1268.8C1083.07 1269.47 1101.3 1270.93 1118.6 1272.3C1135.9 1273.67 1154.98 1275.85 1173.2 1277C1191.42 1278.15 1205.13 1278.65 1227.9 1279.2C1250.67 1279.75 1275.65 1280.12 1309.8 1280.3C1343.95 1280.48 1412.3 1280.3 1432.8 1280.3" fill="none" stroke="#0000a0" stroke-width="4.8" stroke-linejoin="round" stroke-linecap="round"/>
<path d="M661.6 1281C662 1275 662.6 1257.5 664 1245C665.4 1232.5 667.83 1218 670 1206C672.17 1194 674.5 1182.17 677 1173C679.5 1163.83 683.67 1154.67 685 1151" fill="none" stroke="#ff8000" stroke-width="6.5" stroke-linejoin="round" stroke-linecap="round"/>
<path d="M661.6 1281C662 1275 662.6 1257.5 664 1245C665.4 1232.5 667.83 1218 670 1206C672.17 1194 674.5 1182.17 677 1173C679.5 1163.83 682.17 1156.83 685 1151C687.83 1145.17 691.33 1141 694 1138C696.67 1135 698.9 1134.17 701 1133C703.1 1131.83 704.71 1130.8 706.6 1131C708.49 1131.2 710.27 1132.24 712.31 1134.19C714.35 1136.15 716.39 1138.81 718.84 1142.71C721.29 1146.62 724.14 1152.48 727 1157.62C729.86 1162.77 733.26 1168.63 735.98 1173.6C738.7 1178.57 740.46 1181.76 743.32 1187.44C746.18 1193.12 750.12 1202 753.11 1207.68C756.1 1213.36 758.55 1217.98 761.27 1221.53C763.99 1225.08 766.98 1227.03 769.43 1228.98C771.88 1230.93 773.92 1232.09 775.96 1233.24C778 1234.39 779.63 1235.19 781.67 1235.9C783.71 1236.61 785.84 1237.5 788.2 1237.5C790.56 1237.5 793.2 1236.74 795.86 1235.91C798.51 1235.08 801.17 1233.98 804.15 1232.51C807.13 1231.03 811.06 1228.57 813.72 1227.06C816.38 1225.54 817.97 1224.56 820.1 1223.43C822.23 1222.29 824.14 1221.19 826.48 1220.25C828.82 1219.3 831.26 1218.55 834.14 1217.75C837.01 1216.96 840.73 1215.97 843.71 1215.48C846.68 1214.99 849.62 1214.78 852 1214.8C854.38 1214.82 856.17 1215.02 858 1215.63C859.83 1216.23 861.33 1217.22 863 1218.41C864.67 1219.61 866.33 1220.72 868 1222.8C869.67 1224.89 871.33 1228.18 873 1230.93C874.67 1233.67 876.33 1236.49 878 1239.28C879.67 1242.07 881.33 1245.09 883 1247.65C884.67 1250.2 886.33 1252.43 888 1254.62C889.67 1256.82 891.33 1258.92 893 1260.8C894.67 1262.69 896.33 1264.58 898 1265.94C899.67 1267.3 901.33 1268.09 903 1268.96C904.67 1269.83 906.17 1270.55 908 1271.16C909.83 1271.77 912 1272.3 914 1272.63C916 1272.95 917.67 1272.93 920 1273.11C922.33 1273.29 923 1273.59 928 1273.7C933 1273.82 943.28 1273.88 950 1273.8C956.72 1273.72 960.7 1274.12 968.3 1273.2C975.9 1272.28 984.22 1269.12 995.6 1268.3C1006.98 1267.48 1024.3 1268.22 1036.6 1268.3C1048.9 1268.38 1055.73 1268.13 1069.4 1268.8C1083.07 1269.47 1101.3 1270.93 1118.6 1272.3C1135.9 1273.67 1154.98 1275.85 1173.2 1277C1191.42 1278.15 1205.13 1278.65 1227.9 1279.2C1250.67 1279.75 1275.65 1280.12 1309.8 1280.3C1343.95 1280.48 1412.3 1280.3 1432.8 1280.3" fill="none" stroke="#ff8000" stroke-width="5.4" stroke-linejoin="round" stroke-linecap="round"/>
<path d="M662.5 1281C662.92 1275.83 663.58 1261.5 665 1250C666.42 1238.5 668.83 1223.67 671 1212C673.17 1200.33 675.5 1189 678 1180C680.5 1171 684.67 1161.67 686 1158" fill="none" stroke="#8000ff" stroke-width="7" stroke-linejoin="round" stroke-linecap="round"/>
<path d="M662.5 1281C662.92 1275.83 663.58 1261.5 665 1250C666.42 1238.5 668.83 1223.67 671 1212C673.17 1200.33 675.5 1189 678 1180C680.5 1171 683.17 1163.83 686 1158C688.83 1152.17 692.5 1147.83 695 1145C697.5 1142.17 699.07 1141.98 701 1141C702.93 1140.02 704.71 1138.9 706.6 1139.1C708.49 1139.3 710.27 1140.3 712.31 1142.18C714.35 1144.06 716.39 1146.63 718.84 1150.4C721.29 1154.16 724.14 1159.81 727 1164.77C729.86 1169.74 733.26 1175.39 735.98 1180.18C738.7 1184.97 740.46 1188.05 743.32 1193.53C746.18 1199.01 750.12 1207.57 753.11 1213.04C756.1 1218.52 758.55 1222.97 761.27 1226.39C763.99 1229.82 766.98 1231.7 769.43 1233.58C771.88 1235.47 773.92 1236.58 775.96 1237.69C778 1238.8 779.63 1239.57 781.67 1240.26C783.71 1240.94 785.84 1241.73 788.2 1241.8C790.56 1241.87 793.2 1241.26 795.86 1240.66C798.51 1240.06 801.17 1239.27 804.15 1238.21C807.13 1237.15 811.06 1235.39 813.72 1234.3C816.38 1233.22 817.97 1232.51 820.1 1231.69C822.23 1230.88 824.14 1230.09 826.48 1229.41C828.82 1228.73 831.26 1228.19 834.14 1227.62C837.01 1227.05 840.73 1226.34 843.71 1225.99C846.68 1225.64 849.62 1225.47 852 1225.5C854.38 1225.53 856.17 1225.68 858 1226.18C859.83 1226.68 861.33 1227.5 863 1228.5C864.67 1229.5 866.33 1230.46 868 1232.18C869.67 1233.9 871.33 1236.56 873 1238.81C874.67 1241.05 876.33 1243.38 878 1245.65C879.67 1247.92 881.33 1250.33 883 1252.41C884.67 1254.5 886.33 1256.36 888 1258.15C889.67 1259.94 891.33 1261.66 893 1263.16C894.67 1264.67 896.33 1266.09 898 1267.18C899.67 1268.28 901.33 1269 903 1269.72C904.67 1270.44 906.17 1271.02 908 1271.5C909.83 1271.99 912 1272.36 914 1272.63C916 1272.9 917.67 1272.93 920 1273.11C922.33 1273.29 923 1273.59 928 1273.7C933 1273.82 943.28 1273.88 950 1273.8C956.72 1273.72 960.7 1274.12 968.3 1273.2C975.9 1272.28 984.22 1269.12 995.6 1268.3C1006.98 1267.48 1024.3 1268.22 1036.6 1268.3C1048.9 1268.38 1055.73 1268.13 1069.4 1268.8C1083.07 1269.47 1101.3 1270.93 1118.6 1272.3C1135.9 1273.67 1154.98 1275.85 1173.2 1277C1191.42 1278.15 1205.13 1278.65 1227.9 1279.2C1250.67 1279.75 1275.65 1280.12 1309.8 1280.3C1343.95 1280.48 1412.3 1280.3 1432.8 1280.3" fill="none" stroke="#8000ff" stroke-width="5.8" stroke-linejoin="round" stroke-linecap="round"/>
<path d="M663 1281C663.25 1277.83 663.83 1267.17 664.5 1262C665.17 1256.83 665.37 1256.78 667 1250C668.63 1243.22 671.52 1232.82 674.3 1221.3C677.08 1209.78 681.25 1190.12 683.7 1180.9C686.15 1171.68 687.2 1170.05 689 1166C690.8 1161.95 693.58 1158.17 694.5 1156.6" fill="none" stroke="#ff0080" stroke-width="9" stroke-linejoin="round" stroke-linecap="round"/>
<path d="M663 1281C663.25 1277.83 663.83 1267.17 664.5 1262C665.17 1256.83 665.37 1256.78 667 1250C668.63 1243.22 671.52 1232.82 674.3 1221.3C677.08 1209.78 681.25 1190.12 683.7 1180.9C686.15 1171.68 687.2 1170.05 689 1166C690.8 1161.95 692.67 1159.43 694.5 1156.6C696.33 1153.77 697.98 1151.02 700 1149C702.02 1146.98 704.53 1144.74 706.6 1144.5C708.67 1144.26 710.33 1145.68 712.41 1147.55C714.49 1149.41 716.56 1151.94 719.05 1155.66C721.54 1159.39 724.45 1164.97 727.35 1169.88C730.25 1174.78 733.71 1180.36 736.48 1185.1C739.25 1189.84 741.05 1192.88 743.95 1198.3C746.86 1203.71 750.87 1212.17 753.91 1217.58C756.95 1222.99 759.44 1227.39 762.21 1230.78C764.98 1234.16 768.02 1236.02 770.51 1237.88C773 1239.74 775.07 1240.84 777.15 1241.94C779.23 1243.04 780.88 1243.8 782.96 1244.48C785.04 1245.15 787.25 1245.89 789.6 1246C791.95 1246.11 794.49 1245.58 797.09 1245.11C799.69 1244.65 802.29 1244.03 805.2 1243.21C808.11 1242.38 811.96 1241 814.56 1240.16C817.16 1239.31 818.72 1238.76 820.8 1238.13C822.88 1237.49 824.75 1236.88 827.04 1236.35C829.33 1235.82 831.72 1235.4 834.53 1234.95C837.34 1234.51 840.98 1233.96 843.89 1233.68C846.8 1233.41 849.65 1233.27 852 1233.3C854.35 1233.33 856.17 1233.45 858 1233.87C859.83 1234.29 861.33 1234.98 863 1235.82C864.67 1236.67 866.33 1237.51 868 1238.95C869.67 1240.39 871.33 1242.6 873 1244.47C874.67 1246.34 876.33 1248.3 878 1250.18C879.67 1252.07 881.33 1254.05 883 1255.78C884.67 1257.52 886.33 1259.1 888 1260.6C889.67 1262.09 891.33 1263.53 893 1264.77C894.67 1266.01 896.33 1267.12 898 1268.03C899.67 1268.94 901.33 1269.6 903 1270.21C904.67 1270.82 906.17 1271.3 908 1271.7C909.83 1272.11 912 1272.39 914 1272.63C916 1272.86 917.67 1272.93 920 1273.11C922.33 1273.29 923 1273.59 928 1273.7C933 1273.82 943.28 1273.88 950 1273.8C956.72 1273.72 960.7 1274.12 968.3 1273.2C975.9 1272.28 984.22 1269.12 995.6 1268.3C1006.98 1267.48 1024.3 1268.22 1036.6 1268.3C1048.9 1268.38 1055.73 1268.13 1069.4 1268.8C1083.07 1269.47 1101.3 1270.93 1118.6 1272.3C1135.9 1273.67 1154.98 1275.85 1173.2 1277C1191.42 1278.15 1205.13 1278.65 1227.9 1279.2C1250.67 1279.75 1275.65 1280.12 1309.8 1280.3C1343.95 1280.48 1412.3 1280.3 1432.8 1280.3" fill="none" stroke="#ff0080" stroke-width="6.6" stroke-linejoin="round" stroke-linecap="round"/>
<rect x="1392" y="831.6" width="114.6" height="443" fill="#fff" stroke="#000" stroke-width="2"/>
<line x1="1397.5" y1="906.8" x2="1443" y2="906.8" stroke="#000000" stroke-width="5" stroke-linecap="round"/>
<line x1="1397.5" y1="941.7" x2="1443" y2="941.7" stroke="#ff0000" stroke-width="5" stroke-linecap="round"/>
<line x1="1397.5" y1="959.05" x2="1443" y2="959.05" stroke="#00ff00" stroke-width="5" stroke-linecap="round"/>
<line x1="1397.5" y1="976.4" x2="1443" y2="976.4" stroke="#0000ff" stroke-width="5" stroke-linecap="round"/>
<line x1="1397.5" y1="993.75" x2="1443" y2="993.75" stroke="#00ffff" stroke-width="5" stroke-linecap="round"/>
<line x1="1397.5" y1="1011.1" x2="1443" y2="1011.1" stroke="#ff00ff" stroke-width="5" stroke-linecap="round"/>
<line x1="1397.5" y1="1028.45" x2="1443" y2="1028.45" stroke="#ffff00" stroke-width="5" stroke-linecap="round"/>
<line x1="1397.5" y1="1045.8" x2="1443" y2="1045.8" stroke="#808000" stroke-width="5" stroke-linecap="round"/>
<line x1="1397.5" y1="1063.15" x2="1443" y2="1063.15" stroke="#000080" stroke-width="5" stroke-linecap="round"/>
<line x1="1397.5" y1="1080.5" x2="1443" y2="1080.5" stroke="#800080" stroke-width="5" stroke-linecap="round"/>
<line x1="1397.5" y1="1097.85" x2="1443" y2="1097.85" stroke="#800000" stroke-width="5" stroke-linecap="round"/>
<line x1="1397.5" y1="1115.2" x2="1443" y2="1115.2" stroke="#008000" stroke-width="5" stroke-linecap="round"/>
<line x1="1397.5" y1="1132.55" x2="1443" y2="1132.55" stroke="#008080" stroke-width="5" stroke-linecap="round"/>
<line x1="1397.5" y1="1149.9" x2="1443" y2="1149.9" stroke="#0000a0" stroke-width="5" stroke-linecap="round"/>
<line x1="1397.5" y1="1167.25" x2="1443" y2="1167.25" stroke="#ff8000" stroke-width="5" stroke-linecap="round"/>
<line x1="1397.5" y1="1184.6" x2="1443" y2="1184.6" stroke="#8000ff" stroke-width="5" stroke-linecap="round"/>
<line x1="1397.5" y1="1201.95" x2="1443" y2="1201.95" stroke="#ff0080" stroke-width="5" stroke-linecap="round"/>
<line x1="1356.3" y1="906" x2="1356.3" y2="1200" stroke="#000" stroke-width="2.6" stroke-linecap="butt"/>
<path d="M1350 1197.5 L1362.5 1197.5 L1356.3 1215.5 Z" fill="#000"/>
<text transform="matrix(0.42593 0 0 0.40378 76.4163 39.98067)" font-family="'Liberation Serif', 'Times New Roman', serif" font-weight="bold" font-size="100" fill="#000">(a)</text>
<text transform="matrix(0 -0.4239 0.41257 0 42.00743 407.8439)" font-family="'Liberation Serif', 'Times New Roman', serif" font-weight="bold" font-size="100" fill="#000">Absorbance</text>
<text transform="matrix(0.40991 0 0 0.26746 70.40034 86.42507)" font-family="'Liberation Serif', 'Times New Roman', serif" font-weight="bold" font-size="100" fill="#000">2.0</text>
<text transform="matrix(0.4023 0 0 0.26239 71.24159 209.69761)" font-family="'Liberation Serif', 'Times New Roman', serif" font-weight="bold" font-size="100" fill="#000">1.5</text>
<text transform="matrix(0.40708 0 0 0.27029 70.74336 335.71941)" font-family="'Liberation Serif', 'Times New Roman', serif" font-weight="bold" font-size="100" fill="#000">1.0</text>
<text transform="matrix(0.3935 0 0 0.23373 71.38598 458.45254)" font-family="'Liberation Serif', 'Times New Roman', serif" font-weight="bold" font-size="100" fill="#000">0.5</text>
<text transform="matrix(0.38966 0 0 0.26806 350.07034 596.88388)" font-family="'Liberation Serif', 'Times New Roman', serif" font-weight="bold" font-size="100" fill="#000">400</text>
<text transform="matrix(0.38676 0 0 0.26806 588.03296 596.88388)" font-family="'Liberation Serif', 'Times New Roman', serif" font-weight="bold" font-size="100" fill="#000">500</text>
<text transform="matrix(0.38434 0 0 0.26806 828.88699 596.88388)" font-family="'Liberation Serif', 'Times New Roman', serif" font-weight="bold" font-size="100" fill="#000">600</text>
<text transform="matrix(0.42391 0 0 0.40178 358.61609 672.60267)" font-family="'Liberation Serif', 'Times New Roman', serif" font-weight="bold" font-size="100" fill="#000">Wavelength (nm)</text>
<text transform="matrix(0.42877 0 0 0.40089 1099.86491 38.08133)" font-family="'Liberation Serif', 'Times New Roman', serif" font-weight="bold" font-size="100" fill="#000">(b)</text>
<text transform="matrix(0 -0.42118 0.41429 0 1072.04571 417.42118)" font-family="'Liberation Serif', 'Times New Roman', serif" font-weight="bold" font-size="100" fill="#000">Absorbance</text>
<text transform="matrix(0.29476 0 0 0.30697 1107.90095 85.15303)" font-family="'Liberation Serif', 'Times New Roman', serif" font-weight="bold" font-size="100" fill="#000">2</text>
<text transform="matrix(0.30088 0 0 0.28985 1084.59292 222.17015)" font-family="'Liberation Serif', 'Times New Roman', serif" font-weight="bold" font-size="100" fill="#000">1.5</text>
<text transform="matrix(0.28162 0 0 0.27909 1104.32703 397.04)" font-family="'Liberation Serif', 'Times New Roman', serif" font-weight="bold" font-size="100" fill="#000">1</text>
<text transform="matrix(0.30667 0 0 0.28985 1106.35333 574.2203)" font-family="'Liberation Serif', 'Times New Roman', serif" font-weight="bold" font-size="100" fill="#000">0</text>
<text transform="matrix(0.36152 0 0 0.26239 1310.63848 600.27522)" font-family="'Liberation Serif', 'Times New Roman', serif" font-weight="bold" font-size="100" fill="#000">400</text>
<text transform="matrix(0.3838 0 0 0.26239 1496.42479 600.27522)" font-family="'Liberation Serif', 'Times New Roman', serif" font-weight="bold" font-size="100" fill="#000">500</text>
<text transform="matrix(0.38993 0 0 0.26239 1683.95021 600.27522)" font-family="'Liberation Serif', 'Times New Roman', serif" font-weight="bold" font-size="100" fill="#000">600</text>
<text transform="matrix(0.37443 0 0 0.26239 1872.33343 600.27522)" font-family="'Liberation Serif', 'Times New Roman', serif" font-weight="bold" font-size="100" fill="#000">700</text>
<text transform="matrix(0.42386 0 0 0.40178 1410.65614 672.60267)" font-family="'Liberation Serif', 'Times New Roman', serif" font-weight="bold" font-size="100" fill="#000">Wavelength (nm)</text>
<text transform="matrix(0.41421 0 0 0.28723 1628.54 541.42809)" font-family="'Liberation Sans', Arial, sans-serif" font-weight="normal" font-size="100" fill="#000">AuNPs peak</text>
<text transform="matrix(0.21036 0 0 0.16901 1698.15854 150.54197)" font-family="'Liberation Serif', 'Times New Roman', serif" font-weight="bold" font-size="100" fill="#000">0 Min</text>
<text transform="matrix(0.21577 0 0 0.18116 1699.89386 435.08)" font-family="'Liberation Serif', 'Times New Roman', serif" font-weight="bold" font-size="100" fill="#000">14 Min</text>
<text transform="matrix(0.42602 0 0 0.39067 577.41592 769.296)" font-family="'Liberation Serif', 'Times New Roman', serif" font-weight="bold" font-size="100" fill="#000">(c)</text>
<text transform="matrix(0 -0.42465 0.394 0 545.946 1158.30465)" font-family="'Liberation Serif', 'Times New Roman', serif" font-weight="bold" font-size="100" fill="#000">Absorbance</text>
<text transform="matrix(0.42308 0 0 0.26239 576.84769 862.39522)" font-family="'Liberation Serif', 'Times New Roman', serif" font-weight="bold" font-size="100" fill="#000">2.0</text>
<text transform="matrix(0.41965 0 0 0.26687 576.64283 969.69313)" font-family="'Liberation Serif', 'Times New Roman', serif" font-weight="bold" font-size="100" fill="#000">1.5</text>
<text transform="matrix(0.41965 0 0 0.26294 576.64283 1077.27412)" font-family="'Liberation Serif', 'Times New Roman', serif" font-weight="bold" font-size="100" fill="#000">1.0</text>
<text transform="matrix(0.4053 0 0 0.26687 578.3788 1182.30627)" font-family="'Liberation Serif', 'Times New Roman', serif" font-weight="bold" font-size="100" fill="#000">0.5</text>
<text transform="matrix(0.40496 0 0 0.26 577.96017 1289.82)" font-family="'Liberation Serif', 'Times New Roman', serif" font-weight="bold" font-size="100" fill="#000">0.0</text>
<text transform="matrix(0.41521 0 0 0.26179 635.83915 1319.89642)" font-family="'Liberation Serif', 'Times New Roman', serif" font-weight="bold" font-size="100" fill="#000">300</text>
<text transform="matrix(0.40662 0 0 0.26179 790.09338 1319.89642)" font-family="'Liberation Serif', 'Times New Roman', serif" font-weight="bold" font-size="100" fill="#000">400</text>
<text transform="matrix(0.39817 0 0 0.26179 943.82732 1319.89642)" font-family="'Liberation Serif', 'Times New Roman', serif" font-weight="bold" font-size="100" fill="#000">500</text>
<text transform="matrix(0.40881 0 0 0.26179 1095.81357 1319.89642)" font-family="'Liberation Serif', 'Times New Roman', serif" font-weight="bold" font-size="100" fill="#000">600</text>
<text transform="matrix(0.41757 0 0 0.26179 1248.07457 1319.89642)" font-family="'Liberation Serif', 'Times New Roman', serif" font-weight="bold" font-size="100" fill="#000">700</text>
<text transform="matrix(0.40881 0 0 0.26179 1401.35357 1319.89642)" font-family="'Liberation Serif', 'Times New Roman', serif" font-weight="bold" font-size="100" fill="#000">800</text>
<text transform="matrix(0.42386 0 0 0.38778 855.65614 1394.97667)" font-family="'Liberation Serif', 'Times New Roman', serif" font-weight="bold" font-size="100" fill="#000">Wavelength (nm)</text>
<text transform="matrix(0.20818 0 0 0.20085 1257.70729 912.97831)" font-family="'Liberation Serif', 'Times New Roman', serif" font-weight="bold" font-size="100" fill="#000">0 Min</text>
<text transform="matrix(0.20621 0 0 0.16958 1244.39031 1214.04085)" font-family="'Liberation Serif', 'Times New Roman', serif" font-weight="bold" font-size="100" fill="#000">16 Min</text>
<text transform="matrix(0.32 0 0 0.21351 815.82 230.48649)" font-family="'Liberation Sans', Arial, sans-serif" font-weight="normal" font-size="100" fill="#000">0  m in</text>
<text transform="matrix(0.32 0 0 0.21351 815.82 263.72649)" font-family="'Liberation Sans', Arial, sans-serif" font-weight="normal" font-size="100" fill="#000">1  m in</text>
<text transform="matrix(0.32 0 0 0.21351 815.82 296.96649)" font-family="'Liberation Sans', Arial, sans-serif" font-weight="normal" font-size="100" fill="#000">2  m in</text>
<text transform="matrix(0.32 0 0 0.21351 815.82 330.20649)" font-family="'Liberation Sans', Arial, sans-serif" font-weight="normal" font-size="100" fill="#000">3  m in</text>
<text transform="matrix(0.32 0 0 0.21351 815.82 363.44649)" font-family="'Liberation Sans', Arial, sans-serif" font-weight="normal" font-size="100" fill="#000">4  m in</text>
<text transform="matrix(0.32 0 0 0.21351 815.82 396.68649)" font-family="'Liberation Sans', Arial, sans-serif" font-weight="normal" font-size="100" fill="#000">5  m in</text>
<text transform="matrix(0.32 0 0 0.21351 815.82 429.92649)" font-family="'Liberation Sans', Arial, sans-serif" font-weight="normal" font-size="100" fill="#000">6  m in</text>
<text transform="matrix(0.32 0 0 0.21351 815.82 463.16649)" font-family="'Liberation Sans', Arial, sans-serif" font-weight="normal" font-size="100" fill="#000">7  m in</text>
<text transform="matrix(0.21394 0 0 0.14054 1897.94422 151.15946)" font-family="'Liberation Sans', Arial, sans-serif" font-weight="bold" font-size="100" fill="#000">0 min</text>
<text transform="matrix(0.21394 0 0 0.14054 1897.94422 172.63946)" font-family="'Liberation Sans', Arial, sans-serif" font-weight="bold" font-size="100" fill="#000">1 min</text>
<text transform="matrix(0.21394 0 0 0.14054 1897.94422 194.11946)" font-family="'Liberation Sans', Arial, sans-serif" font-weight="bold" font-size="100" fill="#000">2 min</text>
<text transform="matrix(0.21394 0 0 0.14054 1897.94422 215.59946)" font-family="'Liberation Sans', Arial, sans-serif" font-weight="bold" font-size="100" fill="#000">3 min</text>
<text transform="matrix(0.21394 0 0 0.14054 1897.94422 237.07946)" font-family="'Liberation Sans', Arial, sans-serif" font-weight="bold" font-size="100" fill="#000">4 min</text>
<text transform="matrix(0.21394 0 0 0.14054 1897.94422 258.55946)" font-family="'Liberation Sans', Arial, sans-serif" font-weight="bold" font-size="100" fill="#000">5 min</text>
<text transform="matrix(0.21394 0 0 0.14054 1897.94422 280.03946)" font-family="'Liberation Sans', Arial, sans-serif" font-weight="bold" font-size="100" fill="#000">6 min</text>
<text transform="matrix(0.21394 0 0 0.14054 1897.94422 301.51946)" font-family="'Liberation Sans', Arial, sans-serif" font-weight="bold" font-size="100" fill="#000">7 min</text>
<text transform="matrix(0.21394 0 0 0.14054 1897.94422 322.99946)" font-family="'Liberation Sans', Arial, sans-serif" font-weight="bold" font-size="100" fill="#000">8 min</text>
<text transform="matrix(0.21394 0 0 0.14054 1897.94422 344.47946)" font-family="'Liberation Sans', Arial, sans-serif" font-weight="bold" font-size="100" fill="#000">9 min</text>
<text transform="matrix(0.21394 0 0 0.14054 1897.94422 365.95946)" font-family="'Liberation Sans', Arial, sans-serif" font-weight="bold" font-size="100" fill="#000">10 min</text>
<text transform="matrix(0.21394 0 0 0.14054 1897.94422 387.43946)" font-family="'Liberation Sans', Arial, sans-serif" font-weight="bold" font-size="100" fill="#000">11 min</text>
<text transform="matrix(0.21394 0 0 0.14054 1897.94422 408.91946)" font-family="'Liberation Sans', Arial, sans-serif" font-weight="bold" font-size="100" fill="#000">12 min</text>
<text transform="matrix(0.21394 0 0 0.14054 1897.94422 430.39946)" font-family="'Liberation Sans', Arial, sans-serif" font-weight="bold" font-size="100" fill="#000">13 min</text>
<text transform="matrix(0.21394 0 0 0.14054 1897.94422 451.87946)" font-family="'Liberation Sans', Arial, sans-serif" font-weight="bold" font-size="100" fill="#000">14 min</text>
<text transform="matrix(0.16906 0 0 0.10676 1447.62377 910.39324)" font-family="'Liberation Sans', Arial, sans-serif" font-weight="bold" font-size="100" fill="#000">0min</text>
<text transform="matrix(0.16906 0 0 0.10676 1447.62377 945.29324)" font-family="'Liberation Sans', Arial, sans-serif" font-weight="bold" font-size="100" fill="#000">1min</text>
<text transform="matrix(0.16906 0 0 0.10676 1447.62377 962.64324)" font-family="'Liberation Sans', Arial, sans-serif" font-weight="bold" font-size="100" fill="#000">2min</text>
<text transform="matrix(0.16906 0 0 0.10676 1447.62377 979.99324)" font-family="'Liberation Sans', Arial, sans-serif" font-weight="bold" font-size="100" fill="#000">3min</text>
<text transform="matrix(0.16906 0 0 0.10676 1447.62377 997.34324)" font-family="'Liberation Sans', Arial, sans-serif" font-weight="bold" font-size="100" fill="#000">4min</text>
<text transform="matrix(0.16906 0 0 0.10676 1447.62377 1014.69324)" font-family="'Liberation Sans', Arial, sans-serif" font-weight="bold" font-size="100" fill="#000">5min</text>
<text transform="matrix(0.16906 0 0 0.10676 1447.62377 1032.04324)" font-family="'Liberation Sans', Arial, sans-serif" font-weight="bold" font-size="100" fill="#000">6min</text>
<text transform="matrix(0.16906 0 0 0.10676 1447.62377 1049.39324)" font-family="'Liberation Sans', Arial, sans-serif" font-weight="bold" font-size="100" fill="#000">7min</text>
<text transform="matrix(0.16906 0 0 0.10676 1447.62377 1066.74324)" font-family="'Liberation Sans', Arial, sans-serif" font-weight="bold" font-size="100" fill="#000">8min</text>
<text transform="matrix(0.16906 0 0 0.10676 1447.62377 1084.09324)" font-family="'Liberation Sans', Arial, sans-serif" font-weight="bold" font-size="100" fill="#000">9min</text>
<text transform="matrix(0.16906 0 0 0.10676 1447.62377 1101.44324)" font-family="'Liberation Sans', Arial, sans-serif" font-weight="bold" font-size="100" fill="#000">10min</text>
<text transform="matrix(0.16906 0 0 0.10676 1447.62377 1118.79324)" font-family="'Liberation Sans', Arial, sans-serif" font-weight="bold" font-size="100" fill="#000">11min</text>
<text transform="matrix(0.16906 0 0 0.10676 1447.62377 1136.14324)" font-family="'Liberation Sans', Arial, sans-serif" font-weight="bold" font-size="100" fill="#000">12min</text>
<text transform="matrix(0.16906 0 0 0.10676 1447.62377 1153.49324)" font-family="'Liberation Sans', Arial, sans-serif" font-weight="bold" font-size="100" fill="#000">13min</text>
<text transform="matrix(0.16906 0 0 0.10676 1447.62377 1170.84324)" font-family="'Liberation Sans', Arial, sans-serif" font-weight="bold" font-size="100" fill="#000">14min</text>
<text transform="matrix(0.16906 0 0 0.10676 1447.62377 1188.19324)" font-family="'Liberation Sans', Arial, sans-serif" font-weight="bold" font-size="100" fill="#000">15min</text>
<text transform="matrix(0.16906 0 0 0.10676 1447.62377 1205.54324)" font-family="'Liberation Sans', Arial, sans-serif" font-weight="bold" font-size="100" fill="#000">16min</text>
</svg></body></html>
